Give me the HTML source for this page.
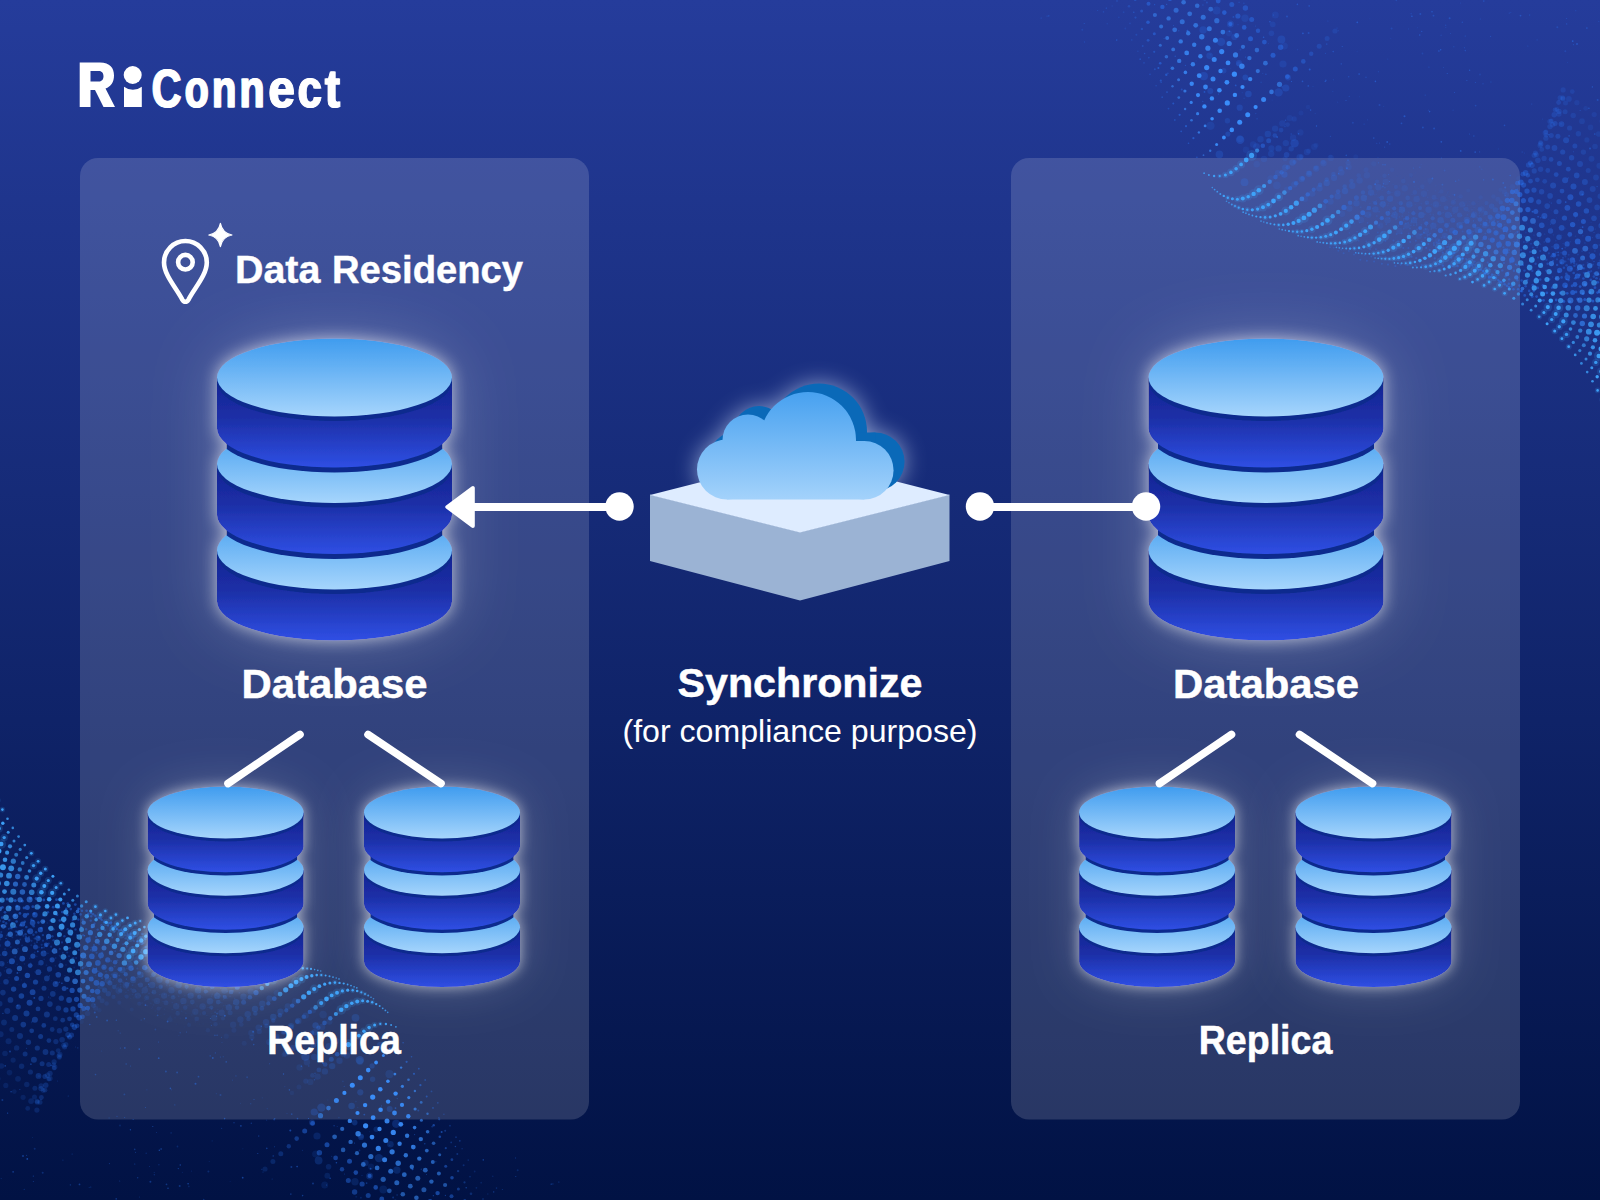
<!DOCTYPE html>
<html><head><meta charset="utf-8"><title>RiConnect - Data Residency</title>
<style>
html,body{margin:0;padding:0;background:#0a174f;}
body{width:1600px;height:1200px;overflow:hidden;font-family:"Liberation Sans",sans-serif;}
svg{display:block}
text{font-family:"Liberation Sans",sans-serif;fill:#fff}
</style></head><body>
<svg width="1600" height="1200" viewBox="0 0 1600 1200">
<defs>
<linearGradient id="gBg" x1="0" y1="0" x2="0" y2="1">
<stop offset="0" stop-color="#253c9b"/><stop offset="0.6" stop-color="#0f2368"/><stop offset="1" stop-color="#011244"/>
</linearGradient>
<linearGradient id="gTop" x1="0" y1="0" x2="0" y2="1">
<stop offset="0" stop-color="#3f9cef"/><stop offset="1" stop-color="#a6d5fc"/>
</linearGradient>
<linearGradient id="gSide" x1="0" y1="0" x2="0" y2="1">
<stop offset="0" stop-color="#142392"/><stop offset="0.45" stop-color="#1c2fa7"/><stop offset="1" stop-color="#2f4fe4"/>
</linearGradient>
<clipPath id="connClip"><rect x="-108" y="-100" width="216" height="500"/></clipPath>
<linearGradient id="gCloud" gradientUnits="userSpaceOnUse" x1="0" y1="392" x2="0" y2="499">
<stop offset="0" stop-color="#47a1f0"/><stop offset="1" stop-color="#a3d2fb"/>
</linearGradient>
<filter id="glow" x="-60%" y="-40%" width="220%" height="180%">
<feGaussianBlur in="SourceAlpha" stdDeviation="8" result="b1"/>
<feGaussianBlur in="SourceAlpha" stdDeviation="32" result="b2"/>
<feFlood flood-color="#ffffff" flood-opacity="0.62" result="f1"/>
<feComposite in="f1" in2="b1" operator="in" result="g1"/>
<feFlood flood-color="#ffffff" flood-opacity="0.22" result="f2"/>
<feComposite in="f2" in2="b2" operator="in" result="g2"/>
<feMerge><feMergeNode in="g2"/><feMergeNode in="g1"/><feMergeNode in="SourceGraphic"/></feMerge>
</filter>
<filter id="glowS" x="-60%" y="-40%" width="220%" height="180%">
<feGaussianBlur in="SourceAlpha" stdDeviation="6.5" result="b1"/>
<feGaussianBlur in="SourceAlpha" stdDeviation="24" result="b2"/>
<feFlood flood-color="#ffffff" flood-opacity="0.6" result="f1"/>
<feComposite in="f1" in2="b1" operator="in" result="g1"/>
<feFlood flood-color="#ffffff" flood-opacity="0.2" result="f2"/>
<feComposite in="f2" in2="b2" operator="in" result="g2"/>
<feMerge><feMergeNode in="g2"/><feMergeNode in="g1"/><feMergeNode in="SourceGraphic"/></feMerge>
</filter>
<filter id="blurC" x="-40%" y="-40%" width="180%" height="180%"><feGaussianBlur stdDeviation="11"/></filter>
<g id="db">
<path d="M-117.5 173.0V224.0A117.5 39.0 0 0 0 117.5 224.0V173.0Z" fill="url(#gSide)"/>
<ellipse cy="177.5" rx="117.5" ry="39.0" fill="#0b2c8e"/>
<ellipse cy="173.0" rx="117.5" ry="39.0" fill="url(#gTop)"/>
<ellipse cy="142.5" rx="117.5" ry="39.0" fill="#0b2c8e" clip-path="url(#connClip)"/>
<path d="M-117.5 86.5V137.5A117.5 39.0 0 0 0 117.5 137.5V86.5Z" fill="url(#gSide)"/>
<ellipse cy="91.0" rx="117.5" ry="39.0" fill="#0b2c8e"/>
<ellipse cy="86.5" rx="117.5" ry="39.0" fill="url(#gTop)"/>
<ellipse cy="56.0" rx="117.5" ry="39.0" fill="#0b2c8e" clip-path="url(#connClip)"/>
<path d="M-117.5 0.0V51.0A117.5 39.0 0 0 0 117.5 51.0V0.0Z" fill="url(#gSide)"/>
<ellipse cy="4.5" rx="117.5" ry="39.0" fill="#0b2c8e"/>
<ellipse cy="0.0" rx="117.5" ry="39.0" fill="url(#gTop)"/>
</g>
<g id="cloudShape">
<circle cx="727" cy="469.5" r="30"/>
<circle cx="748" cy="440" r="25.5"/>
<circle cx="808" cy="440" r="48"/>
<circle cx="864.3" cy="470.25" r="29.25"/>
<rect x="727" y="441" width="137.3" height="58.5"/>
</g>
<clipPath id="cloudClip"><rect x="600" y="300" width="400" height="199.5"/></clipPath>
<g id="dots">
<g fill="#2d7dff"><circle cx="1105.7" cy="-5.2" r="0.9" opacity="0.14"/><circle cx="1112.2" cy="6.0" r="0.8" opacity="0.15"/><circle cx="1117.0" cy="0.9" r="1.0" opacity="0.18"/><circle cx="1122.5" cy="-4.9" r="1.3" opacity="0.23"/><circle cx="1118.8" cy="17.3" r="0.9" opacity="0.16"/><circle cx="1123.6" cy="12.2" r="0.9" opacity="0.18"/><circle cx="1129.0" cy="6.3" r="1.3" opacity="0.24"/><circle cx="1135.2" cy="-0.3" r="1.4" opacity="0.34"/><circle cx="1125.3" cy="28.5" r="0.9" opacity="0.17"/><circle cx="1130.0" cy="23.4" r="0.9" opacity="0.20"/><circle cx="1135.5" cy="17.6" r="1.1" opacity="0.28"/><circle cx="1141.6" cy="11.0" r="1.5" opacity="0.35"/><circle cx="1148.5" cy="3.7" r="2.0" opacity="0.40"/><circle cx="1156.0" cy="-4.4" r="2.5" opacity="0.43"/><circle cx="1131.7" cy="39.9" r="0.9" opacity="0.19"/><circle cx="1136.4" cy="34.7" r="1.0" opacity="0.23"/><circle cx="1141.9" cy="28.9" r="1.2" opacity="0.31"/><circle cx="1148.0" cy="22.3" r="1.8" opacity="0.44"/><circle cx="1162.4" cy="6.9" r="2.2" opacity="0.47"/><circle cx="1169.9" cy="-1.1" r="2.2" opacity="0.47"/><circle cx="1137.9" cy="51.3" r="0.8" opacity="0.22"/><circle cx="1142.7" cy="46.1" r="1.0" opacity="0.28"/><circle cx="1148.1" cy="40.3" r="1.4" opacity="0.37"/><circle cx="1154.3" cy="33.7" r="1.5" opacity="0.41"/><circle cx="1191.1" cy="-5.8" r="2.3" opacity="0.47"/><circle cx="1144.0" cy="62.8" r="0.9" opacity="0.25"/><circle cx="1148.8" cy="57.6" r="0.9" opacity="0.27"/><circle cx="1154.2" cy="51.8" r="1.1" opacity="0.36"/><circle cx="1150.0" cy="74.3" r="0.9" opacity="0.25"/><circle cx="1154.8" cy="69.2" r="1.0" opacity="0.31"/><circle cx="1160.2" cy="63.3" r="1.3" opacity="0.45"/><circle cx="1218.2" cy="1.1" r="2.4" opacity="0.47"/><circle cx="1156.1" cy="85.8" r="0.8" opacity="0.27"/><circle cx="1160.8" cy="80.7" r="1.1" opacity="0.38"/><circle cx="1166.3" cy="74.8" r="1.2" opacity="0.45"/><circle cx="1224.3" cy="12.6" r="2.3" opacity="0.49"/><circle cx="1231.8" cy="4.6" r="2.5" opacity="0.38"/><circle cx="1239.3" cy="-3.4" r="2.2" opacity="0.31"/><circle cx="1162.2" cy="97.2" r="0.9" opacity="0.31"/><circle cx="1167.0" cy="92.1" r="0.9" opacity="0.39"/><circle cx="1230.4" cy="24.1" r="2.1" opacity="0.49"/><circle cx="1237.9" cy="16.0" r="2.6" opacity="0.40"/><circle cx="1245.4" cy="8.0" r="2.7" opacity="0.37"/><circle cx="1168.5" cy="108.6" r="0.9" opacity="0.31"/><circle cx="1173.3" cy="103.5" r="1.0" opacity="0.42"/><circle cx="1244.2" cy="27.4" r="2.3" opacity="0.48"/><circle cx="1251.7" cy="19.4" r="2.5" opacity="0.40"/><circle cx="1174.8" cy="120.0" r="0.9" opacity="0.33"/><circle cx="1179.6" cy="114.8" r="1.1" opacity="0.48"/><circle cx="1250.5" cy="38.8" r="2.5" opacity="0.48"/><circle cx="1258.0" cy="30.7" r="2.2" opacity="0.40"/><circle cx="1181.2" cy="131.3" r="0.9" opacity="0.40"/><circle cx="1186.0" cy="126.2" r="1.1" opacity="0.47"/><circle cx="1264.4" cy="42.1" r="2.4" opacity="0.42"/><circle cx="1188.5" cy="143.3" r="0.8" opacity="0.40"/><circle cx="1193.4" cy="138.2" r="1.1" opacity="0.48"/><circle cx="1273.0" cy="55.3" r="2.5" opacity="0.47"/><circle cx="1280.6" cy="47.3" r="2.7" opacity="0.40"/><circle cx="1196.9" cy="157.3" r="0.8" opacity="0.41"/><circle cx="1287.4" cy="76.6" r="2.4" opacity="0.46"/><circle cx="1295.3" cy="69.0" r="2.5" opacity="0.42"/><circle cx="1303.3" cy="61.4" r="2.3" opacity="0.35"/><circle cx="1311.2" cy="53.8" r="2.2" opacity="0.28"/><circle cx="1319.2" cy="46.2" r="2.5" opacity="0.23"/><circle cx="1327.1" cy="38.6" r="2.5" opacity="0.19"/><circle cx="1335.0" cy="31.0" r="2.6" opacity="0.15"/><circle cx="1262.8" cy="145.7" r="2.3" opacity="0.41"/><circle cx="1268.7" cy="140.7" r="2.5" opacity="0.31"/><circle cx="1274.8" cy="135.5" r="2.3" opacity="0.25"/><circle cx="1281.1" cy="130.1" r="2.4" opacity="0.20"/><circle cx="1287.6" cy="124.6" r="2.3" opacity="0.15"/><circle cx="1294.2" cy="118.9" r="2.6" opacity="0.13"/><circle cx="1301.0" cy="113.0" r="2.5" opacity="0.09"/><circle cx="1308.0" cy="107.0" r="2.3" opacity="0.08"/><circle cx="1275.5" cy="177.1" r="2.3" opacity="0.39"/><circle cx="1281.6" cy="172.3" r="2.2" opacity="0.30"/><circle cx="1287.9" cy="167.3" r="2.3" opacity="0.23"/><circle cx="1294.6" cy="162.1" r="2.1" opacity="0.17"/><circle cx="1301.4" cy="156.7" r="2.4" opacity="0.15"/><circle cx="1308.6" cy="151.1" r="2.5" opacity="0.12"/><circle cx="1316.0" cy="145.3" r="2.5" opacity="0.09"/><circle cx="1290.2" cy="188.1" r="2.2" opacity="0.45"/><circle cx="1296.2" cy="183.3" r="2.3" opacity="0.31"/><circle cx="1302.6" cy="178.4" r="2.4" opacity="0.24"/><circle cx="1309.2" cy="173.2" r="2.4" opacity="0.17"/><circle cx="1316.0" cy="167.8" r="2.1" opacity="0.16"/><circle cx="1323.2" cy="162.3" r="2.4" opacity="0.12"/><circle cx="1330.6" cy="156.5" r="2.1" opacity="0.09"/><circle cx="1307.7" cy="194.4" r="2.2" opacity="0.44"/><circle cx="1313.7" cy="189.6" r="2.1" opacity="0.31"/><circle cx="1320.1" cy="184.7" r="2.2" opacity="0.23"/><circle cx="1326.7" cy="179.5" r="2.2" opacity="0.18"/><circle cx="1333.5" cy="174.1" r="2.3" opacity="0.16"/><circle cx="1340.7" cy="168.6" r="2.6" opacity="0.12"/><circle cx="1348.1" cy="162.8" r="2.6" opacity="0.10"/><circle cx="1355.8" cy="156.8" r="2.5" opacity="0.08"/><circle cx="1325.7" cy="201.3" r="2.4" opacity="0.40"/><circle cx="1331.7" cy="196.6" r="2.1" opacity="0.31"/><circle cx="1338.1" cy="191.6" r="2.3" opacity="0.22"/><circle cx="1344.7" cy="186.5" r="2.3" opacity="0.18"/><circle cx="1351.5" cy="181.1" r="2.3" opacity="0.15"/><circle cx="1358.7" cy="175.5" r="2.3" opacity="0.11"/><circle cx="1366.1" cy="169.8" r="2.5" opacity="0.09"/><circle cx="1373.8" cy="163.8" r="2.6" opacity="0.07"/><circle cx="1344.0" cy="207.4" r="2.6" opacity="0.44"/><circle cx="1350.1" cy="202.7" r="2.3" opacity="0.31"/><circle cx="1356.4" cy="197.7" r="2.5" opacity="0.25"/><circle cx="1363.0" cy="192.5" r="2.2" opacity="0.19"/><circle cx="1369.9" cy="187.2" r="2.5" opacity="0.14"/><circle cx="1377.1" cy="181.6" r="2.1" opacity="0.11"/><circle cx="1384.5" cy="175.8" r="2.3" opacity="0.10"/><circle cx="1392.1" cy="169.8" r="2.2" opacity="0.08"/><circle cx="1362.8" cy="212.7" r="2.5" opacity="0.44"/><circle cx="1368.9" cy="208.0" r="2.3" opacity="0.29"/><circle cx="1375.2" cy="203.0" r="2.1" opacity="0.25"/><circle cx="1381.8" cy="197.9" r="2.4" opacity="0.18"/><circle cx="1388.7" cy="192.5" r="2.1" opacity="0.16"/><circle cx="1395.9" cy="186.9" r="2.1" opacity="0.12"/><circle cx="1403.3" cy="181.1" r="2.4" opacity="0.10"/><circle cx="1410.9" cy="175.1" r="2.1" opacity="0.07"/><circle cx="1381.8" cy="218.2" r="2.1" opacity="0.41"/><circle cx="1387.9" cy="213.5" r="2.4" opacity="0.30"/><circle cx="1394.2" cy="208.5" r="2.1" opacity="0.25"/><circle cx="1400.8" cy="203.3" r="2.2" opacity="0.18"/><circle cx="1407.7" cy="198.0" r="2.4" opacity="0.14"/><circle cx="1414.8" cy="192.4" r="2.3" opacity="0.12"/><circle cx="1422.3" cy="186.6" r="2.3" opacity="0.10"/><circle cx="1429.9" cy="180.6" r="2.5" opacity="0.07"/><circle cx="1401.0" cy="223.0" r="2.2" opacity="0.45"/><circle cx="1407.0" cy="218.2" r="2.3" opacity="0.33"/><circle cx="1413.4" cy="213.3" r="2.1" opacity="0.26"/><circle cx="1420.0" cy="208.1" r="2.1" opacity="0.20"/><circle cx="1426.9" cy="202.8" r="2.3" opacity="0.15"/><circle cx="1434.0" cy="197.2" r="2.5" opacity="0.11"/><circle cx="1441.4" cy="191.4" r="2.2" opacity="0.09"/><circle cx="1420.2" cy="228.0" r="2.1" opacity="0.40"/><circle cx="1426.3" cy="223.3" r="2.1" opacity="0.30"/><circle cx="1432.7" cy="218.3" r="2.1" opacity="0.24"/><circle cx="1439.3" cy="213.2" r="2.3" opacity="0.20"/><circle cx="1446.1" cy="207.8" r="2.4" opacity="0.15"/><circle cx="1453.3" cy="202.2" r="2.5" opacity="0.12"/><circle cx="1460.7" cy="196.4" r="2.2" opacity="0.09"/><circle cx="1468.3" cy="190.4" r="2.0" opacity="0.07"/><circle cx="1440.4" cy="230.5" r="2.6" opacity="0.42"/><circle cx="1446.5" cy="225.5" r="2.4" opacity="0.31"/><circle cx="1452.8" cy="220.3" r="2.5" opacity="0.21"/><circle cx="1459.4" cy="214.9" r="2.5" opacity="0.17"/><circle cx="1466.2" cy="209.2" r="2.4" opacity="0.13"/><circle cx="1473.3" cy="203.4" r="2.1" opacity="0.12"/><circle cx="1480.7" cy="197.3" r="2.1" opacity="0.09"/><circle cx="1455.3" cy="232.4" r="2.6" opacity="0.43"/><circle cx="1461.0" cy="227.0" r="2.1" opacity="0.31"/><circle cx="1467.0" cy="221.4" r="2.6" opacity="0.25"/><circle cx="1473.2" cy="215.5" r="2.4" opacity="0.19"/><circle cx="1479.7" cy="209.4" r="2.2" opacity="0.15"/><circle cx="1486.5" cy="203.1" r="2.1" opacity="0.12"/><circle cx="1493.4" cy="196.5" r="2.3" opacity="0.09"/><circle cx="1500.7" cy="189.7" r="2.3" opacity="0.07"/><circle cx="1469.0" cy="231.8" r="2.7" opacity="0.44"/><circle cx="1474.3" cy="225.8" r="2.2" opacity="0.35"/><circle cx="1479.9" cy="219.5" r="2.3" opacity="0.26"/><circle cx="1485.7" cy="213.0" r="2.2" opacity="0.19"/><circle cx="1491.7" cy="206.2" r="2.7" opacity="0.16"/><circle cx="1497.9" cy="199.2" r="2.5" opacity="0.11"/><circle cx="1504.4" cy="191.9" r="2.6" opacity="0.09"/><circle cx="1480.2" cy="230.7" r="2.3" opacity="0.45"/><circle cx="1485.1" cy="224.0" r="2.3" opacity="0.36"/><circle cx="1490.1" cy="217.1" r="2.5" opacity="0.25"/><circle cx="1495.4" cy="209.9" r="2.7" opacity="0.19"/><circle cx="1500.8" cy="202.4" r="2.2" opacity="0.16"/><circle cx="1506.5" cy="194.7" r="2.6" opacity="0.12"/><circle cx="1512.4" cy="186.6" r="2.7" opacity="0.09"/><circle cx="1518.4" cy="178.3" r="2.3" opacity="0.07"/><circle cx="1484.9" cy="237.8" r="2.3" opacity="0.41"/><circle cx="1489.0" cy="230.9" r="2.5" opacity="0.36"/><circle cx="1493.3" cy="223.7" r="2.5" opacity="0.40"/><circle cx="1497.8" cy="216.2" r="2.7" opacity="0.41"/><circle cx="1502.5" cy="208.4" r="2.8" opacity="0.43"/><circle cx="1507.3" cy="200.3" r="2.6" opacity="0.47"/><circle cx="1512.3" cy="191.9" r="2.4" opacity="0.46"/><circle cx="1517.5" cy="183.2" r="2.4" opacity="0.37"/><circle cx="1522.9" cy="174.2" r="2.4" opacity="0.30"/><circle cx="1528.5" cy="164.9" r="2.6" opacity="0.26"/><circle cx="1534.2" cy="155.3" r="2.6" opacity="0.19"/><circle cx="1540.1" cy="145.5" r="2.7" opacity="0.16"/><circle cx="1546.2" cy="135.3" r="2.4" opacity="0.15"/><circle cx="1552.5" cy="124.8" r="2.7" opacity="0.15"/><circle cx="1558.9" cy="114.0" r="2.7" opacity="0.17"/><circle cx="1565.5" cy="103.0" r="2.5" opacity="0.16"/><circle cx="1572.3" cy="91.6" r="2.4" opacity="0.16"/><circle cx="1492.3" cy="240.1" r="2.6" opacity="0.42"/><circle cx="1496.0" cy="232.8" r="2.6" opacity="0.40"/><circle cx="1499.7" cy="225.2" r="2.5" opacity="0.46"/><circle cx="1503.6" cy="217.2" r="2.9" opacity="0.45"/><circle cx="1507.7" cy="209.0" r="2.3" opacity="0.50"/><circle cx="1511.9" cy="200.5" r="2.7" opacity="0.48"/><circle cx="1516.3" cy="191.6" r="2.5" opacity="0.42"/><circle cx="1520.9" cy="182.4" r="2.8" opacity="0.40"/><circle cx="1525.6" cy="172.9" r="2.8" opacity="0.32"/><circle cx="1530.4" cy="163.1" r="2.5" opacity="0.25"/><circle cx="1535.4" cy="153.0" r="2.5" opacity="0.21"/><circle cx="1540.6" cy="142.6" r="2.4" opacity="0.18"/><circle cx="1545.9" cy="131.9" r="2.4" opacity="0.16"/><circle cx="1551.3" cy="120.9" r="2.4" opacity="0.17"/><circle cx="1556.9" cy="109.5" r="2.4" opacity="0.17"/><circle cx="1562.7" cy="97.8" r="2.5" opacity="0.17"/><circle cx="1499.0" cy="244.7" r="2.9" opacity="0.43"/><circle cx="1502.1" cy="237.1" r="2.8" opacity="0.44"/><circle cx="1505.4" cy="229.2" r="2.9" opacity="0.49"/><circle cx="1508.8" cy="221.1" r="2.5" opacity="0.47"/><circle cx="1519.8" cy="194.6" r="2.6" opacity="0.49"/><circle cx="1523.7" cy="185.1" r="2.6" opacity="0.36"/><circle cx="1527.8" cy="175.3" r="2.3" opacity="0.30"/><circle cx="1532.0" cy="165.2" r="2.7" opacity="0.23"/><circle cx="1536.4" cy="154.8" r="2.5" opacity="0.18"/><circle cx="1540.8" cy="144.0" r="2.7" opacity="0.18"/><circle cx="1545.4" cy="132.9" r="2.8" opacity="0.17"/><circle cx="1550.2" cy="121.5" r="2.8" opacity="0.18"/><circle cx="1555.0" cy="109.8" r="2.4" opacity="0.20"/><circle cx="1560.0" cy="97.8" r="2.5" opacity="0.18"/><circle cx="1505.4" cy="251.4" r="2.9" opacity="0.50"/><circle cx="1508.2" cy="243.7" r="2.8" opacity="0.47"/><circle cx="1523.5" cy="200.7" r="2.6" opacity="0.45"/><circle cx="1527.0" cy="191.1" r="2.7" opacity="0.39"/><circle cx="1530.5" cy="181.2" r="2.4" opacity="0.30"/><circle cx="1534.2" cy="170.9" r="2.6" opacity="0.24"/><circle cx="1537.9" cy="160.3" r="2.8" opacity="0.20"/><circle cx="1541.8" cy="149.4" r="2.4" opacity="0.19"/><circle cx="1545.9" cy="138.2" r="2.6" opacity="0.19"/><circle cx="1550.0" cy="126.6" r="2.7" opacity="0.20"/><circle cx="1554.2" cy="114.7" r="2.7" opacity="0.22"/><circle cx="1558.6" cy="102.5" r="2.4" opacity="0.21"/><circle cx="1563.1" cy="89.9" r="2.6" opacity="0.17"/><circle cx="1511.9" cy="260.0" r="2.8" opacity="0.50"/><circle cx="1527.9" cy="209.6" r="2.6" opacity="0.49"/><circle cx="1530.9" cy="200.0" r="2.9" opacity="0.39"/><circle cx="1534.0" cy="190.1" r="2.6" opacity="0.34"/><circle cx="1537.3" cy="179.8" r="2.4" opacity="0.27"/><circle cx="1540.6" cy="169.3" r="2.7" opacity="0.21"/><circle cx="1544.1" cy="158.4" r="2.6" opacity="0.21"/><circle cx="1547.7" cy="147.1" r="2.5" opacity="0.24"/><circle cx="1551.3" cy="135.6" r="2.5" opacity="0.22"/><circle cx="1555.1" cy="123.6" r="2.5" opacity="0.24"/><circle cx="1559.0" cy="111.4" r="2.7" opacity="0.20"/><circle cx="1563.0" cy="98.8" r="2.5" opacity="0.19"/><circle cx="1535.8" cy="211.5" r="2.5" opacity="0.42"/><circle cx="1538.7" cy="201.8" r="2.6" opacity="0.32"/><circle cx="1541.6" cy="191.7" r="2.7" opacity="0.26"/><circle cx="1544.7" cy="181.3" r="2.4" opacity="0.23"/><circle cx="1547.8" cy="170.5" r="2.4" opacity="0.23"/><circle cx="1551.1" cy="159.4" r="2.4" opacity="0.27"/><circle cx="1554.5" cy="148.0" r="2.9" opacity="0.26"/><circle cx="1557.9" cy="136.2" r="2.5" opacity="0.26"/><circle cx="1561.5" cy="124.1" r="2.9" opacity="0.25"/><circle cx="1565.1" cy="111.7" r="2.5" opacity="0.19"/><circle cx="1568.9" cy="98.9" r="2.9" opacity="0.16"/><circle cx="1541.7" cy="225.3" r="2.8" opacity="0.40"/><circle cx="1544.4" cy="215.9" r="3.0" opacity="0.37"/><circle cx="1547.2" cy="206.1" r="2.8" opacity="0.27"/><circle cx="1550.1" cy="195.9" r="2.8" opacity="0.27"/><circle cx="1553.1" cy="185.4" r="3.0" opacity="0.28"/><circle cx="1556.2" cy="174.6" r="2.4" opacity="0.32"/><circle cx="1559.4" cy="163.5" r="2.5" opacity="0.31"/><circle cx="1562.7" cy="152.0" r="2.6" opacity="0.27"/><circle cx="1566.1" cy="140.2" r="3.0" opacity="0.27"/><circle cx="1569.6" cy="128.0" r="2.6" opacity="0.20"/><circle cx="1573.2" cy="115.5" r="2.7" opacity="0.16"/><circle cx="1576.9" cy="102.7" r="2.6" opacity="0.13"/><circle cx="1547.9" cy="240.2" r="2.6" opacity="0.42"/><circle cx="1550.5" cy="231.0" r="2.7" opacity="0.33"/><circle cx="1553.2" cy="221.6" r="2.8" opacity="0.30"/><circle cx="1556.0" cy="211.8" r="2.5" opacity="0.30"/><circle cx="1559.0" cy="201.6" r="2.6" opacity="0.32"/><circle cx="1562.0" cy="191.1" r="2.4" opacity="0.33"/><circle cx="1565.1" cy="180.3" r="3.0" opacity="0.32"/><circle cx="1568.3" cy="169.2" r="2.4" opacity="0.32"/><circle cx="1571.6" cy="157.7" r="2.7" opacity="0.27"/><circle cx="1574.9" cy="145.9" r="2.5" opacity="0.25"/><circle cx="1578.4" cy="133.7" r="2.7" opacity="0.19"/><circle cx="1582.0" cy="121.2" r="2.9" opacity="0.14"/><circle cx="1585.7" cy="108.4" r="2.4" opacity="0.11"/><circle cx="1553.8" cy="255.2" r="2.4" opacity="0.46"/><circle cx="1556.4" cy="246.4" r="3.0" opacity="0.36"/><circle cx="1559.0" cy="237.2" r="2.7" opacity="0.32"/><circle cx="1561.7" cy="227.8" r="2.9" opacity="0.37"/><circle cx="1564.5" cy="218.0" r="2.6" opacity="0.39"/><circle cx="1567.4" cy="207.8" r="2.9" opacity="0.41"/><circle cx="1570.4" cy="197.3" r="3.0" opacity="0.41"/><circle cx="1573.5" cy="186.5" r="3.0" opacity="0.34"/><circle cx="1576.7" cy="175.4" r="2.8" opacity="0.31"/><circle cx="1580.0" cy="163.9" r="3.0" opacity="0.24"/><circle cx="1583.4" cy="152.1" r="2.7" opacity="0.18"/><circle cx="1586.9" cy="139.9" r="2.6" opacity="0.14"/><circle cx="1590.5" cy="127.4" r="2.8" opacity="0.12"/><circle cx="1594.2" cy="114.6" r="2.6" opacity="0.13"/><circle cx="1559.6" cy="270.3" r="2.6" opacity="0.47"/><circle cx="1562.0" cy="261.8" r="2.7" opacity="0.39"/><circle cx="1564.5" cy="253.0" r="2.5" opacity="0.42"/><circle cx="1567.1" cy="243.9" r="2.6" opacity="0.43"/><circle cx="1569.8" cy="234.4" r="2.4" opacity="0.45"/><circle cx="1572.6" cy="224.6" r="2.7" opacity="0.48"/><circle cx="1575.6" cy="214.5" r="2.5" opacity="0.47"/><circle cx="1578.6" cy="204.0" r="2.8" opacity="0.39"/><circle cx="1581.7" cy="193.2" r="2.6" opacity="0.32"/><circle cx="1584.9" cy="182.0" r="3.0" opacity="0.27"/><circle cx="1588.2" cy="170.5" r="2.5" opacity="0.20"/><circle cx="1591.5" cy="158.7" r="3.0" opacity="0.16"/><circle cx="1595.0" cy="146.5" r="2.8" opacity="0.14"/><circle cx="1598.6" cy="134.0" r="2.8" opacity="0.14"/><circle cx="1602.3" cy="121.2" r="2.8" opacity="0.14"/><circle cx="1565.1" cy="285.3" r="2.8" opacity="0.45"/><circle cx="1567.4" cy="277.2" r="2.8" opacity="0.43"/><circle cx="1569.8" cy="268.8" r="3.0" opacity="0.44"/><circle cx="1572.4" cy="260.0" r="2.7" opacity="0.44"/><circle cx="1577.7" cy="241.4" r="2.9" opacity="0.49"/><circle cx="1583.4" cy="221.4" r="2.5" opacity="0.45"/><circle cx="1586.4" cy="210.9" r="2.7" opacity="0.38"/><circle cx="1589.5" cy="200.1" r="2.9" opacity="0.27"/><circle cx="1592.7" cy="189.0" r="3.0" opacity="0.22"/><circle cx="1596.0" cy="177.5" r="2.9" opacity="0.19"/><circle cx="1599.4" cy="165.7" r="3.0" opacity="0.16"/><circle cx="1602.9" cy="153.5" r="2.9" opacity="0.15"/><circle cx="1572.7" cy="292.6" r="2.5" opacity="0.50"/><circle cx="1575.0" cy="284.5" r="2.4" opacity="0.48"/><circle cx="1577.4" cy="276.0" r="2.6" opacity="0.49"/><circle cx="1588.1" cy="238.8" r="3.0" opacity="0.47"/><circle cx="1591.0" cy="228.7" r="3.0" opacity="0.35"/><circle cx="1594.0" cy="218.2" r="2.8" opacity="0.28"/><circle cx="1597.1" cy="207.4" r="2.8" opacity="0.24"/><circle cx="1600.3" cy="196.2" r="2.8" opacity="0.19"/><circle cx="1603.6" cy="184.8" r="2.4" opacity="0.18"/><circle cx="1592.5" cy="256.3" r="3.0" opacity="0.48"/><circle cx="1595.3" cy="246.5" r="2.8" opacity="0.38"/><circle cx="1598.2" cy="236.3" r="2.8" opacity="0.29"/><circle cx="1601.2" cy="225.8" r="2.9" opacity="0.24"/><circle cx="1604.3" cy="215.0" r="2.9" opacity="0.21"/><circle cx="1599.3" cy="264.2" r="2.4" opacity="0.43"/><circle cx="1602.1" cy="254.4" r="2.6" opacity="0.31"/><circle cx="1605.0" cy="244.3" r="2.8" opacity="0.28"/><circle cx="1603.1" cy="282.0" r="2.5" opacity="0.45"/><circle cx="1605.8" cy="272.5" r="2.5" opacity="0.33"/><circle cx="1246.0" cy="149.8" r="3.2" opacity="0.10"/><circle cx="1253.2" cy="144.5" r="3.2" opacity="0.13"/><circle cx="1260.5" cy="139.2" r="3.2" opacity="0.16"/><circle cx="1267.8" cy="133.9" r="3.2" opacity="0.19"/><circle cx="1275.1" cy="128.6" r="3.2" opacity="0.16"/><circle cx="1282.4" cy="123.4" r="3.2" opacity="0.13"/><circle cx="1289.7" cy="118.1" r="3.2" opacity="0.10"/><circle cx="1256.7" cy="164.3" r="3.2" opacity="0.10"/><circle cx="1264.0" cy="159.0" r="3.2" opacity="0.13"/><circle cx="1271.2" cy="153.7" r="3.2" opacity="0.16"/><circle cx="1278.5" cy="148.4" r="3.2" opacity="0.19"/><circle cx="1285.8" cy="143.1" r="3.2" opacity="0.16"/><circle cx="1293.1" cy="137.8" r="3.2" opacity="0.13"/><circle cx="1300.4" cy="132.5" r="3.2" opacity="0.10"/><circle cx="1270.6" cy="178.4" r="3.2" opacity="0.10"/><circle cx="1277.9" cy="173.1" r="3.2" opacity="0.13"/><circle cx="1285.2" cy="167.8" r="3.2" opacity="0.16"/><circle cx="1292.5" cy="162.5" r="3.2" opacity="0.19"/><circle cx="1299.7" cy="157.3" r="3.2" opacity="0.16"/><circle cx="1307.0" cy="152.0" r="3.2" opacity="0.13"/><circle cx="1314.3" cy="146.7" r="3.2" opacity="0.10"/><circle cx="1287.1" cy="189.7" r="3.2" opacity="0.10"/><circle cx="1294.4" cy="184.4" r="3.2" opacity="0.13"/><circle cx="1301.7" cy="179.1" r="3.2" opacity="0.16"/><circle cx="1309.0" cy="173.8" r="3.2" opacity="0.19"/><circle cx="1316.2" cy="168.5" r="3.2" opacity="0.16"/><circle cx="1323.5" cy="163.2" r="3.2" opacity="0.13"/><circle cx="1330.8" cy="157.9" r="3.2" opacity="0.10"/><circle cx="1304.9" cy="198.8" r="3.2" opacity="0.10"/><circle cx="1312.2" cy="193.5" r="3.2" opacity="0.13"/><circle cx="1319.5" cy="188.2" r="3.2" opacity="0.16"/><circle cx="1326.7" cy="183.0" r="3.2" opacity="0.19"/><circle cx="1334.0" cy="177.7" r="3.2" opacity="0.16"/><circle cx="1341.3" cy="172.4" r="3.2" opacity="0.13"/><circle cx="1348.6" cy="167.1" r="3.2" opacity="0.10"/><circle cx="1323.2" cy="206.9" r="3.2" opacity="0.10"/><circle cx="1330.5" cy="201.6" r="3.2" opacity="0.13"/><circle cx="1337.7" cy="196.3" r="3.2" opacity="0.16"/><circle cx="1345.0" cy="191.0" r="3.2" opacity="0.19"/><circle cx="1352.3" cy="185.8" r="3.2" opacity="0.16"/><circle cx="1359.6" cy="180.5" r="3.2" opacity="0.13"/><circle cx="1366.9" cy="175.2" r="3.2" opacity="0.10"/><circle cx="1342.0" cy="213.7" r="3.2" opacity="0.10"/><circle cx="1349.3" cy="208.5" r="3.2" opacity="0.13"/><circle cx="1356.5" cy="203.2" r="3.2" opacity="0.16"/><circle cx="1363.8" cy="197.9" r="3.2" opacity="0.19"/><circle cx="1371.1" cy="192.6" r="3.2" opacity="0.16"/><circle cx="1378.4" cy="187.3" r="3.2" opacity="0.13"/><circle cx="1385.7" cy="182.0" r="3.2" opacity="0.10"/><circle cx="1361.0" cy="220.0" r="3.2" opacity="0.10"/><circle cx="1368.3" cy="214.7" r="3.2" opacity="0.13"/><circle cx="1375.5" cy="209.4" r="3.2" opacity="0.16"/><circle cx="1382.8" cy="204.1" r="3.2" opacity="0.19"/><circle cx="1390.1" cy="198.8" r="3.2" opacity="0.16"/><circle cx="1397.4" cy="193.5" r="3.2" opacity="0.13"/><circle cx="1404.7" cy="188.2" r="3.2" opacity="0.10"/><circle cx="1380.2" cy="225.6" r="3.2" opacity="0.10"/><circle cx="1387.5" cy="220.3" r="3.2" opacity="0.13"/><circle cx="1394.7" cy="215.0" r="3.2" opacity="0.16"/><circle cx="1402.0" cy="209.7" r="3.2" opacity="0.19"/><circle cx="1409.3" cy="204.4" r="3.2" opacity="0.16"/><circle cx="1416.6" cy="199.1" r="3.2" opacity="0.13"/><circle cx="1423.9" cy="193.8" r="3.2" opacity="0.10"/><circle cx="1399.5" cy="230.9" r="3.2" opacity="0.10"/><circle cx="1406.7" cy="225.6" r="3.2" opacity="0.13"/><circle cx="1414.0" cy="220.3" r="3.2" opacity="0.16"/><circle cx="1421.3" cy="215.0" r="3.2" opacity="0.19"/><circle cx="1428.6" cy="209.7" r="3.2" opacity="0.16"/><circle cx="1435.9" cy="204.4" r="3.2" opacity="0.13"/><circle cx="1443.1" cy="199.1" r="3.2" opacity="0.10"/><circle cx="1418.8" cy="236.1" r="3.2" opacity="0.10"/><circle cx="1426.0" cy="230.9" r="3.2" opacity="0.13"/><circle cx="1433.3" cy="225.6" r="3.2" opacity="0.16"/><circle cx="1440.6" cy="220.3" r="3.2" opacity="0.19"/><circle cx="1447.9" cy="215.0" r="3.2" opacity="0.16"/><circle cx="1455.2" cy="209.7" r="3.2" opacity="0.13"/><circle cx="1462.4" cy="204.4" r="3.2" opacity="0.10"/><circle cx="1437.7" cy="241.2" r="3.2" opacity="0.10"/><circle cx="1445.0" cy="235.9" r="3.2" opacity="0.13"/><circle cx="1452.3" cy="230.6" r="3.2" opacity="0.16"/><circle cx="1459.6" cy="225.3" r="3.2" opacity="0.19"/><circle cx="1466.8" cy="220.0" r="3.2" opacity="0.16"/><circle cx="1474.1" cy="214.7" r="3.2" opacity="0.13"/><circle cx="1481.4" cy="209.4" r="3.2" opacity="0.10"/><circle cx="1455.7" cy="245.9" r="3.2" opacity="0.10"/><circle cx="1463.0" cy="240.6" r="3.2" opacity="0.13"/><circle cx="1470.3" cy="235.3" r="3.2" opacity="0.16"/><circle cx="1477.6" cy="230.0" r="3.2" opacity="0.19"/><circle cx="1484.9" cy="224.7" r="3.2" opacity="0.16"/><circle cx="1492.1" cy="219.4" r="3.2" opacity="0.13"/><circle cx="1499.4" cy="214.1" r="3.2" opacity="0.10"/><circle cx="1330.0" cy="247.2" r="1.0" opacity="0.23"/><circle cx="1338.3" cy="250.7" r="1.0" opacity="0.23"/><circle cx="1343.6" cy="253.2" r="1.0" opacity="0.24"/><circle cx="1354.0" cy="254.5" r="1.0" opacity="0.24"/><circle cx="1360.3" cy="259.7" r="1.0" opacity="0.25"/><circle cx="1366.9" cy="260.7" r="1.0" opacity="0.26"/><circle cx="1374.1" cy="261.5" r="1.0" opacity="0.26"/><circle cx="1381.9" cy="263.8" r="1.0" opacity="0.27"/><circle cx="1388.0" cy="264.6" r="1.1" opacity="0.27"/><circle cx="1395.4" cy="266.1" r="1.1" opacity="0.28"/><circle cx="1400.6" cy="264.6" r="1.1" opacity="0.29"/><circle cx="1407.6" cy="265.2" r="1.1" opacity="0.29"/><circle cx="1415.5" cy="265.6" r="1.1" opacity="0.30"/><circle cx="1421.8" cy="265.3" r="1.1" opacity="0.30"/><circle cx="1426.0" cy="265.9" r="1.1" opacity="0.31"/><circle cx="1431.2" cy="266.5" r="1.1" opacity="0.32"/><circle cx="1439.0" cy="264.2" r="1.2" opacity="0.32"/><circle cx="1442.9" cy="265.6" r="1.2" opacity="0.33"/><circle cx="1449.6" cy="265.1" r="1.2" opacity="0.34"/><circle cx="1452.6" cy="265.8" r="1.2" opacity="0.34"/><circle cx="1457.7" cy="266.1" r="1.2" opacity="0.35"/><circle cx="1464.2" cy="268.0" r="1.2" opacity="0.35"/><circle cx="1469.4" cy="266.6" r="1.2" opacity="0.36"/><circle cx="1475.2" cy="270.4" r="1.2" opacity="0.37"/><circle cx="1479.0" cy="270.2" r="1.2" opacity="0.37"/><circle cx="1484.4" cy="273.7" r="1.3" opacity="0.38"/><circle cx="1489.1" cy="277.8" r="1.3" opacity="0.38"/><circle cx="1494.8" cy="277.8" r="1.3" opacity="0.39"/><circle cx="1499.5" cy="281.6" r="1.3" opacity="0.40"/><circle cx="1504.6" cy="284.2" r="1.3" opacity="0.40"/><circle cx="1508.9" cy="287.1" r="1.3" opacity="0.41"/><circle cx="1513.4" cy="289.3" r="1.3" opacity="0.41"/><circle cx="1520.8" cy="291.0" r="1.3" opacity="0.42"/><circle cx="1524.7" cy="295.4" r="1.4" opacity="0.43"/><circle cx="1532.2" cy="296.4" r="1.4" opacity="0.43"/><circle cx="1536.6" cy="296.6" r="1.4" opacity="0.44"/><circle cx="1543.5" cy="300.3" r="1.4" opacity="0.45"/><circle cx="1550.6" cy="301.0" r="1.4" opacity="0.45"/><circle cx="1556.2" cy="300.0" r="1.4" opacity="0.46"/><circle cx="1563.9" cy="301.5" r="1.4" opacity="0.46"/><circle cx="1569.6" cy="301.6" r="1.4" opacity="0.47"/><circle cx="1577.7" cy="298.9" r="1.5" opacity="0.48"/><circle cx="1584.8" cy="299.6" r="1.5" opacity="0.48"/><circle cx="1592.9" cy="300.9" r="1.5" opacity="0.49"/><circle cx="1599.7" cy="299.9" r="1.5" opacity="0.49"/><circle cx="1333.6" cy="247.7" r="0.9" opacity="0.21"/><circle cx="1341.3" cy="249.6" r="1.0" opacity="0.22"/><circle cx="1348.9" cy="251.1" r="1.0" opacity="0.22"/><circle cx="1356.1" cy="253.0" r="1.0" opacity="0.23"/><circle cx="1364.7" cy="255.1" r="1.0" opacity="0.23"/><circle cx="1371.3" cy="256.5" r="1.0" opacity="0.24"/><circle cx="1379.7" cy="256.7" r="1.0" opacity="0.25"/><circle cx="1385.8" cy="257.6" r="1.0" opacity="0.25"/><circle cx="1393.7" cy="257.4" r="1.0" opacity="0.26"/><circle cx="1399.4" cy="257.2" r="1.0" opacity="0.26"/><circle cx="1404.5" cy="258.5" r="1.1" opacity="0.27"/><circle cx="1411.7" cy="256.8" r="1.1" opacity="0.27"/><circle cx="1416.2" cy="258.2" r="1.1" opacity="0.28"/><circle cx="1423.0" cy="257.7" r="1.1" opacity="0.29"/><circle cx="1428.9" cy="257.2" r="1.1" opacity="0.29"/><circle cx="1434.8" cy="258.4" r="1.1" opacity="0.30"/><circle cx="1441.2" cy="257.1" r="1.1" opacity="0.30"/><circle cx="1445.2" cy="257.0" r="1.1" opacity="0.31"/><circle cx="1451.2" cy="257.5" r="1.2" opacity="0.31"/><circle cx="1454.9" cy="261.0" r="1.2" opacity="0.32"/><circle cx="1459.1" cy="262.2" r="1.2" opacity="0.33"/><circle cx="1465.6" cy="263.7" r="1.2" opacity="0.33"/><circle cx="1469.8" cy="264.7" r="1.2" opacity="0.34"/><circle cx="1476.5" cy="269.0" r="1.2" opacity="0.34"/><circle cx="1481.0" cy="269.7" r="1.2" opacity="0.35"/><circle cx="1485.9" cy="272.8" r="1.2" opacity="0.35"/><circle cx="1489.1" cy="276.5" r="1.2" opacity="0.36"/><circle cx="1495.5" cy="278.1" r="1.3" opacity="0.37"/><circle cx="1501.1" cy="282.1" r="1.3" opacity="0.37"/><circle cx="1506.9" cy="285.7" r="1.3" opacity="0.38"/><circle cx="1511.7" cy="286.2" r="1.3" opacity="0.38"/><circle cx="1518.1" cy="289.3" r="1.3" opacity="0.39"/><circle cx="1521.9" cy="291.3" r="1.3" opacity="0.40"/><circle cx="1529.2" cy="290.9" r="1.3" opacity="0.40"/><circle cx="1533.8" cy="291.1" r="1.3" opacity="0.41"/><circle cx="1541.0" cy="292.5" r="1.3" opacity="0.41"/><circle cx="1546.8" cy="292.8" r="1.4" opacity="0.42"/><circle cx="1552.9" cy="293.6" r="1.4" opacity="0.42"/><circle cx="1560.2" cy="292.9" r="1.4" opacity="0.43"/><circle cx="1567.2" cy="293.3" r="1.4" opacity="0.44"/><circle cx="1576.0" cy="292.0" r="1.4" opacity="0.44"/><circle cx="1583.2" cy="293.8" r="1.4" opacity="0.45"/><circle cx="1589.8" cy="292.7" r="1.4" opacity="0.45"/><circle cx="1597.6" cy="292.6" r="1.4" opacity="0.46"/><circle cx="1604.9" cy="294.0" r="1.4" opacity="0.46"/><circle cx="1338.2" cy="245.8" r="0.9" opacity="0.20"/><circle cx="1346.5" cy="247.1" r="0.9" opacity="0.20"/><circle cx="1353.5" cy="247.4" r="1.0" opacity="0.21"/><circle cx="1361.2" cy="249.3" r="1.0" opacity="0.21"/><circle cx="1370.0" cy="249.3" r="1.0" opacity="0.22"/><circle cx="1375.9" cy="249.2" r="1.0" opacity="0.22"/><circle cx="1381.7" cy="251.1" r="1.0" opacity="0.23"/><circle cx="1388.1" cy="251.1" r="1.0" opacity="0.24"/><circle cx="1396.2" cy="248.3" r="1.0" opacity="0.24"/><circle cx="1403.3" cy="248.1" r="1.0" opacity="0.25"/><circle cx="1408.4" cy="247.9" r="1.0" opacity="0.25"/><circle cx="1415.7" cy="248.3" r="1.0" opacity="0.26"/><circle cx="1421.2" cy="247.6" r="1.1" opacity="0.26"/><circle cx="1426.2" cy="247.9" r="1.1" opacity="0.27"/><circle cx="1429.8" cy="250.0" r="1.1" opacity="0.27"/><circle cx="1438.0" cy="251.2" r="1.1" opacity="0.28"/><circle cx="1442.8" cy="252.7" r="1.1" opacity="0.28"/><circle cx="1447.0" cy="252.1" r="1.1" opacity="0.29"/><circle cx="1452.0" cy="254.3" r="1.1" opacity="0.29"/><circle cx="1457.0" cy="256.9" r="1.1" opacity="0.30"/><circle cx="1461.8" cy="258.9" r="1.1" opacity="0.31"/><circle cx="1467.3" cy="262.2" r="1.2" opacity="0.31"/><circle cx="1471.5" cy="264.0" r="1.2" opacity="0.32"/><circle cx="1476.5" cy="268.3" r="1.2" opacity="0.32"/><circle cx="1482.9" cy="271.1" r="1.2" opacity="0.33"/><circle cx="1485.4" cy="273.1" r="1.2" opacity="0.33"/><circle cx="1491.1" cy="276.9" r="1.2" opacity="0.34"/><circle cx="1498.2" cy="280.1" r="1.2" opacity="0.34"/><circle cx="1503.6" cy="282.0" r="1.2" opacity="0.35"/><circle cx="1508.8" cy="283.8" r="1.2" opacity="0.35"/><circle cx="1512.0" cy="284.0" r="1.3" opacity="0.36"/><circle cx="1519.5" cy="285.6" r="1.3" opacity="0.36"/><circle cx="1525.6" cy="286.2" r="1.3" opacity="0.37"/><circle cx="1532.7" cy="285.1" r="1.3" opacity="0.38"/><circle cx="1537.8" cy="287.9" r="1.3" opacity="0.38"/><circle cx="1542.9" cy="285.3" r="1.3" opacity="0.39"/><circle cx="1552.1" cy="287.7" r="1.3" opacity="0.39"/><circle cx="1556.5" cy="284.7" r="1.3" opacity="0.40"/><circle cx="1565.9" cy="286.4" r="1.3" opacity="0.40"/><circle cx="1572.1" cy="285.9" r="1.4" opacity="0.41"/><circle cx="1580.1" cy="286.6" r="1.4" opacity="0.41"/><circle cx="1585.2" cy="284.6" r="1.4" opacity="0.42"/><circle cx="1595.0" cy="287.7" r="1.4" opacity="0.42"/><circle cx="1602.6" cy="286.8" r="1.4" opacity="0.43"/><circle cx="1342.7" cy="240.6" r="0.9" opacity="0.19"/><circle cx="1350.7" cy="240.9" r="0.9" opacity="0.19"/><circle cx="1358.7" cy="240.7" r="0.9" opacity="0.20"/><circle cx="1366.3" cy="241.3" r="0.9" opacity="0.20"/><circle cx="1371.9" cy="242.6" r="1.0" opacity="0.21"/><circle cx="1378.5" cy="240.2" r="1.0" opacity="0.21"/><circle cx="1385.4" cy="241.0" r="1.0" opacity="0.22"/><circle cx="1393.5" cy="240.4" r="1.0" opacity="0.22"/><circle cx="1398.1" cy="241.2" r="1.0" opacity="0.23"/><circle cx="1404.3" cy="240.8" r="1.0" opacity="0.23"/><circle cx="1410.2" cy="242.1" r="1.0" opacity="0.24"/><circle cx="1415.8" cy="240.7" r="1.0" opacity="0.24"/><circle cx="1421.7" cy="241.8" r="1.0" opacity="0.25"/><circle cx="1428.4" cy="243.9" r="1.0" opacity="0.25"/><circle cx="1434.0" cy="245.0" r="1.1" opacity="0.26"/><circle cx="1437.0" cy="247.5" r="1.1" opacity="0.26"/><circle cx="1442.6" cy="248.0" r="1.1" opacity="0.27"/><circle cx="1448.1" cy="252.7" r="1.1" opacity="0.27"/><circle cx="1452.9" cy="253.4" r="1.1" opacity="0.28"/><circle cx="1459.4" cy="258.1" r="1.1" opacity="0.28"/><circle cx="1462.8" cy="258.4" r="1.1" opacity="0.29"/><circle cx="1468.9" cy="263.2" r="1.1" opacity="0.29"/><circle cx="1472.5" cy="266.1" r="1.1" opacity="0.30"/><circle cx="1477.6" cy="267.3" r="1.2" opacity="0.30"/><circle cx="1483.3" cy="271.1" r="1.2" opacity="0.31"/><circle cx="1488.1" cy="273.6" r="1.2" opacity="0.31"/><circle cx="1492.0" cy="274.5" r="1.2" opacity="0.32"/><circle cx="1498.5" cy="274.8" r="1.2" opacity="0.32"/><circle cx="1505.6" cy="276.3" r="1.2" opacity="0.33"/><circle cx="1509.2" cy="279.4" r="1.2" opacity="0.33"/><circle cx="1517.4" cy="280.2" r="1.2" opacity="0.34"/><circle cx="1521.6" cy="280.5" r="1.2" opacity="0.34"/><circle cx="1527.2" cy="279.9" r="1.2" opacity="0.35"/><circle cx="1536.0" cy="278.2" r="1.3" opacity="0.35"/><circle cx="1540.2" cy="279.5" r="1.3" opacity="0.36"/><circle cx="1549.2" cy="279.4" r="1.3" opacity="0.36"/><circle cx="1556.3" cy="278.5" r="1.3" opacity="0.37"/><circle cx="1561.6" cy="277.4" r="1.3" opacity="0.37"/><circle cx="1568.5" cy="280.1" r="1.3" opacity="0.38"/><circle cx="1575.2" cy="278.2" r="1.3" opacity="0.38"/><circle cx="1583.4" cy="278.5" r="1.3" opacity="0.39"/><circle cx="1590.8" cy="279.9" r="1.3" opacity="0.39"/><circle cx="1597.7" cy="282.3" r="1.4" opacity="0.40"/><circle cx="1349.4" cy="232.8" r="0.9" opacity="0.17"/><circle cx="1357.1" cy="231.6" r="0.9" opacity="0.18"/><circle cx="1362.0" cy="231.5" r="0.9" opacity="0.18"/><circle cx="1369.2" cy="233.4" r="0.9" opacity="0.19"/><circle cx="1377.8" cy="232.5" r="0.9" opacity="0.19"/><circle cx="1382.0" cy="231.8" r="0.9" opacity="0.20"/><circle cx="1389.7" cy="231.7" r="1.0" opacity="0.20"/><circle cx="1396.6" cy="234.0" r="1.0" opacity="0.20"/><circle cx="1401.6" cy="233.3" r="1.0" opacity="0.21"/><circle cx="1408.7" cy="233.6" r="1.0" opacity="0.21"/><circle cx="1412.4" cy="236.1" r="1.0" opacity="0.22"/><circle cx="1420.4" cy="234.8" r="1.0" opacity="0.22"/><circle cx="1425.1" cy="237.7" r="1.0" opacity="0.23"/><circle cx="1428.3" cy="239.0" r="1.0" opacity="0.23"/><circle cx="1433.8" cy="243.1" r="1.0" opacity="0.24"/><circle cx="1439.0" cy="243.6" r="1.0" opacity="0.24"/><circle cx="1444.0" cy="248.7" r="1.1" opacity="0.25"/><circle cx="1449.7" cy="251.1" r="1.1" opacity="0.25"/><circle cx="1454.5" cy="252.6" r="1.1" opacity="0.26"/><circle cx="1458.1" cy="255.9" r="1.1" opacity="0.26"/><circle cx="1463.1" cy="258.5" r="1.1" opacity="0.27"/><circle cx="1469.7" cy="261.5" r="1.1" opacity="0.27"/><circle cx="1474.3" cy="264.6" r="1.1" opacity="0.28"/><circle cx="1478.9" cy="265.8" r="1.1" opacity="0.28"/><circle cx="1485.8" cy="268.2" r="1.1" opacity="0.28"/><circle cx="1489.7" cy="269.5" r="1.1" opacity="0.29"/><circle cx="1495.3" cy="269.9" r="1.2" opacity="0.29"/><circle cx="1502.3" cy="270.4" r="1.2" opacity="0.30"/><circle cx="1508.1" cy="272.6" r="1.2" opacity="0.30"/><circle cx="1513.9" cy="270.8" r="1.2" opacity="0.31"/><circle cx="1518.9" cy="273.2" r="1.2" opacity="0.31"/><circle cx="1524.5" cy="270.6" r="1.2" opacity="0.32"/><circle cx="1532.3" cy="270.7" r="1.2" opacity="0.32"/><circle cx="1538.5" cy="270.3" r="1.2" opacity="0.33"/><circle cx="1546.4" cy="270.6" r="1.2" opacity="0.33"/><circle cx="1550.8" cy="272.0" r="1.2" opacity="0.34"/><circle cx="1558.6" cy="271.9" r="1.3" opacity="0.34"/><circle cx="1566.3" cy="273.7" r="1.3" opacity="0.35"/><circle cx="1573.7" cy="273.0" r="1.3" opacity="0.35"/><circle cx="1579.6" cy="274.7" r="1.3" opacity="0.35"/><circle cx="1587.9" cy="276.6" r="1.3" opacity="0.36"/><circle cx="1596.5" cy="278.2" r="1.3" opacity="0.36"/><circle cx="1602.4" cy="280.6" r="1.3" opacity="0.37"/><circle cx="1354.3" cy="223.3" r="0.9" opacity="0.16"/><circle cx="1359.7" cy="222.6" r="0.9" opacity="0.16"/><circle cx="1367.6" cy="222.9" r="0.9" opacity="0.17"/><circle cx="1374.4" cy="224.6" r="0.9" opacity="0.17"/><circle cx="1379.2" cy="225.1" r="0.9" opacity="0.18"/><circle cx="1386.3" cy="224.1" r="0.9" opacity="0.18"/><circle cx="1392.7" cy="226.3" r="0.9" opacity="0.19"/><circle cx="1398.5" cy="225.9" r="0.9" opacity="0.19"/><circle cx="1403.7" cy="228.4" r="1.0" opacity="0.19"/><circle cx="1410.0" cy="228.6" r="1.0" opacity="0.20"/><circle cx="1414.6" cy="230.2" r="1.0" opacity="0.20"/><circle cx="1421.9" cy="234.3" r="1.0" opacity="0.21"/><circle cx="1427.5" cy="237.2" r="1.0" opacity="0.21"/><circle cx="1431.8" cy="239.6" r="1.0" opacity="0.22"/><circle cx="1436.9" cy="242.5" r="1.0" opacity="0.22"/><circle cx="1442.1" cy="243.6" r="1.0" opacity="0.22"/><circle cx="1447.1" cy="246.9" r="1.0" opacity="0.23"/><circle cx="1450.3" cy="251.6" r="1.0" opacity="0.23"/><circle cx="1454.5" cy="253.1" r="1.1" opacity="0.24"/><circle cx="1460.4" cy="256.4" r="1.1" opacity="0.24"/><circle cx="1466.1" cy="259.0" r="1.1" opacity="0.25"/><circle cx="1472.1" cy="260.0" r="1.1" opacity="0.25"/><circle cx="1474.7" cy="261.6" r="1.1" opacity="0.26"/><circle cx="1480.0" cy="263.8" r="1.1" opacity="0.26"/><circle cx="1487.7" cy="262.6" r="1.1" opacity="0.26"/><circle cx="1491.1" cy="264.3" r="1.1" opacity="0.27"/><circle cx="1498.5" cy="265.5" r="1.1" opacity="0.27"/><circle cx="1503.9" cy="263.0" r="1.1" opacity="0.28"/><circle cx="1510.2" cy="262.7" r="1.1" opacity="0.28"/><circle cx="1516.8" cy="264.7" r="1.2" opacity="0.29"/><circle cx="1522.9" cy="264.9" r="1.2" opacity="0.29"/><circle cx="1528.7" cy="265.1" r="1.2" opacity="0.29"/><circle cx="1535.6" cy="263.8" r="1.2" opacity="0.30"/><circle cx="1541.7" cy="263.7" r="1.2" opacity="0.30"/><circle cx="1547.6" cy="263.8" r="1.2" opacity="0.31"/><circle cx="1557.1" cy="264.9" r="1.2" opacity="0.31"/><circle cx="1563.9" cy="267.8" r="1.2" opacity="0.32"/><circle cx="1571.4" cy="268.6" r="1.2" opacity="0.32"/><circle cx="1577.7" cy="269.8" r="1.2" opacity="0.32"/><circle cx="1584.8" cy="273.2" r="1.2" opacity="0.33"/><circle cx="1593.9" cy="276.6" r="1.3" opacity="0.33"/><circle cx="1600.4" cy="279.2" r="1.3" opacity="0.34"/><circle cx="1358.3" cy="215.3" r="0.9" opacity="0.15"/><circle cx="1365.1" cy="215.9" r="0.9" opacity="0.15"/><circle cx="1369.9" cy="214.8" r="0.9" opacity="0.16"/><circle cx="1376.9" cy="216.0" r="0.9" opacity="0.16"/><circle cx="1381.8" cy="218.1" r="0.9" opacity="0.16"/><circle cx="1389.4" cy="218.2" r="0.9" opacity="0.17"/><circle cx="1396.0" cy="219.1" r="0.9" opacity="0.17"/><circle cx="1400.1" cy="222.1" r="0.9" opacity="0.18"/><circle cx="1405.8" cy="223.6" r="0.9" opacity="0.18"/><circle cx="1410.8" cy="225.3" r="0.9" opacity="0.18"/><circle cx="1417.0" cy="229.5" r="1.0" opacity="0.19"/><circle cx="1424.0" cy="232.8" r="1.0" opacity="0.19"/><circle cx="1427.4" cy="235.1" r="1.0" opacity="0.20"/><circle cx="1431.9" cy="238.3" r="1.0" opacity="0.20"/><circle cx="1439.0" cy="240.1" r="1.0" opacity="0.20"/><circle cx="1442.4" cy="244.6" r="1.0" opacity="0.21"/><circle cx="1448.3" cy="246.8" r="1.0" opacity="0.21"/><circle cx="1452.8" cy="250.3" r="1.0" opacity="0.22"/><circle cx="1458.5" cy="250.2" r="1.0" opacity="0.22"/><circle cx="1462.4" cy="254.1" r="1.0" opacity="0.22"/><circle cx="1467.4" cy="253.0" r="1.0" opacity="0.23"/><circle cx="1473.3" cy="253.6" r="1.1" opacity="0.23"/><circle cx="1476.7" cy="255.8" r="1.1" opacity="0.24"/><circle cx="1482.4" cy="256.7" r="1.1" opacity="0.24"/><circle cx="1489.4" cy="255.7" r="1.1" opacity="0.24"/><circle cx="1495.2" cy="256.7" r="1.1" opacity="0.25"/><circle cx="1500.9" cy="256.0" r="1.1" opacity="0.25"/><circle cx="1506.1" cy="254.9" r="1.1" opacity="0.26"/><circle cx="1512.4" cy="257.4" r="1.1" opacity="0.26"/><circle cx="1520.1" cy="254.8" r="1.1" opacity="0.26"/><circle cx="1524.2" cy="255.7" r="1.1" opacity="0.27"/><circle cx="1532.8" cy="256.8" r="1.1" opacity="0.27"/><circle cx="1538.0" cy="257.6" r="1.1" opacity="0.28"/><circle cx="1546.4" cy="259.7" r="1.2" opacity="0.28"/><circle cx="1553.0" cy="261.0" r="1.2" opacity="0.28"/><circle cx="1561.2" cy="262.7" r="1.2" opacity="0.29"/><circle cx="1566.6" cy="265.2" r="1.2" opacity="0.29"/><circle cx="1574.4" cy="265.7" r="1.2" opacity="0.30"/><circle cx="1582.9" cy="268.3" r="1.2" opacity="0.30"/><circle cx="1589.2" cy="272.3" r="1.2" opacity="0.30"/><circle cx="1598.0" cy="274.4" r="1.2" opacity="0.31"/><circle cx="1360.6" cy="207.2" r="0.9" opacity="0.14"/><circle cx="1366.7" cy="209.2" r="0.9" opacity="0.14"/><circle cx="1372.6" cy="208.4" r="0.9" opacity="0.14"/><circle cx="1379.1" cy="211.7" r="0.9" opacity="0.15"/><circle cx="1386.1" cy="212.2" r="0.9" opacity="0.15"/><circle cx="1391.6" cy="215.8" r="0.9" opacity="0.15"/><circle cx="1396.9" cy="218.1" r="0.9" opacity="0.16"/><circle cx="1403.8" cy="219.8" r="0.9" opacity="0.16"/><circle cx="1408.2" cy="222.6" r="0.9" opacity="0.16"/><circle cx="1413.8" cy="225.3" r="0.9" opacity="0.17"/><circle cx="1419.5" cy="228.6" r="0.9" opacity="0.17"/><circle cx="1423.6" cy="232.7" r="0.9" opacity="0.18"/><circle cx="1429.0" cy="234.7" r="1.0" opacity="0.18"/><circle cx="1435.2" cy="237.3" r="1.0" opacity="0.18"/><circle cx="1438.6" cy="241.1" r="1.0" opacity="0.19"/><circle cx="1445.3" cy="242.9" r="1.0" opacity="0.19"/><circle cx="1448.5" cy="244.4" r="1.0" opacity="0.19"/><circle cx="1454.4" cy="244.7" r="1.0" opacity="0.20"/><circle cx="1459.4" cy="247.8" r="1.0" opacity="0.20"/><circle cx="1464.3" cy="247.8" r="1.0" opacity="0.21"/><circle cx="1468.8" cy="248.2" r="1.0" opacity="0.21"/><circle cx="1473.5" cy="248.9" r="1.0" opacity="0.21"/><circle cx="1479.8" cy="249.6" r="1.0" opacity="0.22"/><circle cx="1484.8" cy="248.8" r="1.0" opacity="0.22"/><circle cx="1489.6" cy="247.8" r="1.1" opacity="0.22"/><circle cx="1497.8" cy="247.3" r="1.1" opacity="0.23"/><circle cx="1503.4" cy="247.3" r="1.1" opacity="0.23"/><circle cx="1509.1" cy="249.9" r="1.1" opacity="0.23"/><circle cx="1514.9" cy="250.2" r="1.1" opacity="0.24"/><circle cx="1521.1" cy="250.0" r="1.1" opacity="0.24"/><circle cx="1530.2" cy="251.9" r="1.1" opacity="0.25"/><circle cx="1535.8" cy="252.6" r="1.1" opacity="0.25"/><circle cx="1543.9" cy="254.9" r="1.1" opacity="0.25"/><circle cx="1551.2" cy="256.5" r="1.1" opacity="0.26"/><circle cx="1557.0" cy="259.3" r="1.1" opacity="0.26"/><circle cx="1565.4" cy="261.5" r="1.1" opacity="0.26"/><circle cx="1574.1" cy="263.1" r="1.2" opacity="0.27"/><circle cx="1581.0" cy="266.7" r="1.2" opacity="0.27"/><circle cx="1588.4" cy="271.6" r="1.2" opacity="0.28"/><circle cx="1594.6" cy="273.5" r="1.2" opacity="0.28"/><circle cx="1602.9" cy="276.2" r="1.2" opacity="0.28"/><circle cx="1365.4" cy="201.5" r="0.8" opacity="0.12"/><circle cx="1369.9" cy="203.8" r="0.8" opacity="0.13"/><circle cx="1376.5" cy="204.0" r="0.9" opacity="0.13"/><circle cx="1383.1" cy="207.4" r="0.9" opacity="0.13"/><circle cx="1388.7" cy="211.7" r="0.9" opacity="0.14"/><circle cx="1394.5" cy="214.5" r="0.9" opacity="0.14"/><circle cx="1399.4" cy="216.9" r="0.9" opacity="0.14"/><circle cx="1403.9" cy="218.6" r="0.9" opacity="0.15"/><circle cx="1411.0" cy="222.9" r="0.9" opacity="0.15"/><circle cx="1416.6" cy="224.9" r="0.9" opacity="0.15"/><circle cx="1419.9" cy="227.6" r="0.9" opacity="0.16"/><circle cx="1425.7" cy="229.2" r="0.9" opacity="0.16"/><circle cx="1430.1" cy="233.3" r="0.9" opacity="0.16"/><circle cx="1434.4" cy="234.2" r="0.9" opacity="0.17"/><circle cx="1441.4" cy="237.7" r="0.9" opacity="0.17"/><circle cx="1444.5" cy="236.7" r="1.0" opacity="0.17"/><circle cx="1449.0" cy="237.4" r="1.0" opacity="0.18"/><circle cx="1456.1" cy="240.0" r="1.0" opacity="0.18"/><circle cx="1459.6" cy="239.6" r="1.0" opacity="0.18"/><circle cx="1466.1" cy="238.4" r="1.0" opacity="0.19"/><circle cx="1471.8" cy="241.0" r="1.0" opacity="0.19"/><circle cx="1475.5" cy="240.5" r="1.0" opacity="0.19"/><circle cx="1482.6" cy="239.4" r="1.0" opacity="0.20"/><circle cx="1488.9" cy="239.1" r="1.0" opacity="0.20"/><circle cx="1493.7" cy="239.6" r="1.0" opacity="0.20"/><circle cx="1499.7" cy="241.6" r="1.0" opacity="0.21"/><circle cx="1506.4" cy="241.7" r="1.0" opacity="0.21"/><circle cx="1514.2" cy="241.7" r="1.0" opacity="0.21"/><circle cx="1518.6" cy="244.2" r="1.1" opacity="0.22"/><circle cx="1525.2" cy="247.0" r="1.1" opacity="0.22"/><circle cx="1532.8" cy="247.5" r="1.1" opacity="0.22"/><circle cx="1540.2" cy="251.1" r="1.1" opacity="0.23"/><circle cx="1548.9" cy="253.3" r="1.1" opacity="0.23"/><circle cx="1554.0" cy="255.2" r="1.1" opacity="0.23"/><circle cx="1563.0" cy="257.8" r="1.1" opacity="0.24"/><circle cx="1571.0" cy="262.8" r="1.1" opacity="0.24"/><circle cx="1576.6" cy="264.3" r="1.1" opacity="0.24"/><circle cx="1584.2" cy="268.4" r="1.1" opacity="0.25"/><circle cx="1591.2" cy="271.2" r="1.1" opacity="0.25"/><circle cx="1598.7" cy="274.2" r="1.1" opacity="0.25"/><circle cx="1366.2" cy="196.2" r="0.8" opacity="0.11"/><circle cx="1373.1" cy="201.7" r="0.8" opacity="0.12"/><circle cx="1379.8" cy="204.3" r="0.8" opacity="0.12"/><circle cx="1384.0" cy="205.0" r="0.8" opacity="0.12"/><circle cx="1389.5" cy="209.9" r="0.8" opacity="0.12"/><circle cx="1395.4" cy="211.7" r="0.9" opacity="0.13"/><circle cx="1402.2" cy="216.1" r="0.9" opacity="0.13"/><circle cx="1406.4" cy="218.3" r="0.9" opacity="0.13"/><circle cx="1411.4" cy="221.2" r="0.9" opacity="0.14"/><circle cx="1416.6" cy="223.0" r="0.9" opacity="0.14"/><circle cx="1421.3" cy="224.9" r="0.9" opacity="0.14"/><circle cx="1426.2" cy="225.8" r="0.9" opacity="0.15"/><circle cx="1431.3" cy="229.0" r="0.9" opacity="0.15"/><circle cx="1436.0" cy="228.6" r="0.9" opacity="0.15"/><circle cx="1442.7" cy="230.4" r="0.9" opacity="0.15"/><circle cx="1446.6" cy="230.4" r="0.9" opacity="0.16"/><circle cx="1452.8" cy="232.0" r="0.9" opacity="0.16"/><circle cx="1457.2" cy="231.9" r="0.9" opacity="0.16"/><circle cx="1462.6" cy="231.4" r="1.0" opacity="0.17"/><circle cx="1467.2" cy="231.1" r="1.0" opacity="0.17"/><circle cx="1473.0" cy="231.5" r="1.0" opacity="0.17"/><circle cx="1478.7" cy="231.9" r="1.0" opacity="0.18"/><circle cx="1485.4" cy="233.4" r="1.0" opacity="0.18"/><circle cx="1489.7" cy="231.5" r="1.0" opacity="0.18"/><circle cx="1496.1" cy="232.5" r="1.0" opacity="0.19"/><circle cx="1504.0" cy="235.6" r="1.0" opacity="0.19"/><circle cx="1509.0" cy="236.0" r="1.0" opacity="0.19"/><circle cx="1517.5" cy="240.0" r="1.0" opacity="0.19"/><circle cx="1523.8" cy="241.9" r="1.0" opacity="0.20"/><circle cx="1531.0" cy="243.8" r="1.0" opacity="0.20"/><circle cx="1537.2" cy="246.9" r="1.0" opacity="0.20"/><circle cx="1545.9" cy="251.2" r="1.0" opacity="0.21"/><circle cx="1553.4" cy="253.9" r="1.1" opacity="0.21"/><circle cx="1558.3" cy="255.2" r="1.1" opacity="0.21"/><circle cx="1568.5" cy="259.2" r="1.1" opacity="0.22"/><circle cx="1574.7" cy="261.4" r="1.1" opacity="0.22"/><circle cx="1583.3" cy="264.8" r="1.1" opacity="0.22"/><circle cx="1591.2" cy="265.9" r="1.1" opacity="0.23"/><circle cx="1598.7" cy="267.9" r="1.1" opacity="0.23"/><circle cx="1603.6" cy="270.9" r="1.1" opacity="0.23"/><circle cx="1370.7" cy="194.9" r="0.8" opacity="0.10"/><circle cx="1376.4" cy="200.5" r="0.8" opacity="0.10"/><circle cx="1381.8" cy="203.1" r="0.8" opacity="0.11"/><circle cx="1387.8" cy="205.7" r="0.8" opacity="0.11"/><circle cx="1392.0" cy="208.3" r="0.8" opacity="0.11"/><circle cx="1399.5" cy="211.7" r="0.8" opacity="0.11"/><circle cx="1402.6" cy="213.6" r="0.8" opacity="0.12"/><circle cx="1408.6" cy="215.5" r="0.9" opacity="0.12"/><circle cx="1413.7" cy="218.2" r="0.9" opacity="0.12"/><circle cx="1417.0" cy="218.6" r="0.9" opacity="0.13"/><circle cx="1423.8" cy="219.8" r="0.9" opacity="0.13"/><circle cx="1427.0" cy="222.3" r="0.9" opacity="0.13"/><circle cx="1432.6" cy="223.5" r="0.9" opacity="0.13"/><circle cx="1438.3" cy="221.3" r="0.9" opacity="0.14"/><circle cx="1443.5" cy="222.0" r="0.9" opacity="0.14"/><circle cx="1449.1" cy="223.4" r="0.9" opacity="0.14"/><circle cx="1454.1" cy="221.5" r="0.9" opacity="0.15"/><circle cx="1457.2" cy="223.8" r="0.9" opacity="0.15"/><circle cx="1463.0" cy="222.3" r="0.9" opacity="0.15"/><circle cx="1468.2" cy="222.5" r="0.9" opacity="0.15"/><circle cx="1475.3" cy="225.6" r="0.9" opacity="0.16"/><circle cx="1480.7" cy="224.4" r="0.9" opacity="0.16"/><circle cx="1488.3" cy="225.5" r="1.0" opacity="0.16"/><circle cx="1494.0" cy="228.4" r="1.0" opacity="0.16"/><circle cx="1501.3" cy="228.6" r="1.0" opacity="0.17"/><circle cx="1506.8" cy="231.9" r="1.0" opacity="0.17"/><circle cx="1514.4" cy="234.1" r="1.0" opacity="0.17"/><circle cx="1521.0" cy="236.7" r="1.0" opacity="0.18"/><circle cx="1527.4" cy="242.1" r="1.0" opacity="0.18"/><circle cx="1533.8" cy="243.1" r="1.0" opacity="0.18"/><circle cx="1543.2" cy="247.5" r="1.0" opacity="0.18"/><circle cx="1548.0" cy="249.1" r="1.0" opacity="0.19"/><circle cx="1556.0" cy="252.5" r="1.0" opacity="0.19"/><circle cx="1565.4" cy="256.5" r="1.0" opacity="0.19"/><circle cx="1573.3" cy="259.1" r="1.0" opacity="0.19"/><circle cx="1579.8" cy="260.5" r="1.0" opacity="0.20"/><circle cx="1587.6" cy="262.8" r="1.0" opacity="0.20"/><circle cx="1593.1" cy="264.5" r="1.1" opacity="0.20"/><circle cx="1601.5" cy="265.9" r="1.1" opacity="0.21"/><circle cx="1374.3" cy="194.8" r="0.8" opacity="0.09"/><circle cx="1378.1" cy="197.2" r="0.8" opacity="0.09"/><circle cx="1384.4" cy="202.4" r="0.8" opacity="0.10"/><circle cx="1388.6" cy="203.8" r="0.8" opacity="0.10"/><circle cx="1394.8" cy="206.9" r="0.8" opacity="0.10"/><circle cx="1400.1" cy="207.4" r="0.8" opacity="0.10"/><circle cx="1404.0" cy="210.5" r="0.8" opacity="0.11"/><circle cx="1408.7" cy="212.3" r="0.8" opacity="0.11"/><circle cx="1413.5" cy="211.3" r="0.8" opacity="0.11"/><circle cx="1419.7" cy="214.0" r="0.8" opacity="0.11"/><circle cx="1425.0" cy="214.2" r="0.9" opacity="0.12"/><circle cx="1430.3" cy="214.4" r="0.9" opacity="0.12"/><circle cx="1433.2" cy="214.8" r="0.9" opacity="0.12"/><circle cx="1438.5" cy="213.0" r="0.9" opacity="0.12"/><circle cx="1443.2" cy="212.7" r="0.9" opacity="0.12"/><circle cx="1451.0" cy="213.9" r="0.9" opacity="0.13"/><circle cx="1453.9" cy="213.3" r="0.9" opacity="0.13"/><circle cx="1461.7" cy="215.6" r="0.9" opacity="0.13"/><circle cx="1467.5" cy="214.8" r="0.9" opacity="0.13"/><circle cx="1470.9" cy="216.8" r="0.9" opacity="0.14"/><circle cx="1477.1" cy="217.8" r="0.9" opacity="0.14"/><circle cx="1483.2" cy="221.3" r="0.9" opacity="0.14"/><circle cx="1489.5" cy="222.1" r="0.9" opacity="0.14"/><circle cx="1497.1" cy="225.2" r="0.9" opacity="0.15"/><circle cx="1502.6" cy="228.6" r="0.9" opacity="0.15"/><circle cx="1510.4" cy="231.1" r="0.9" opacity="0.15"/><circle cx="1517.3" cy="233.1" r="1.0" opacity="0.15"/><circle cx="1524.9" cy="236.8" r="1.0" opacity="0.16"/><circle cx="1531.3" cy="239.4" r="1.0" opacity="0.16"/><circle cx="1540.3" cy="244.3" r="1.0" opacity="0.16"/><circle cx="1546.2" cy="247.1" r="1.0" opacity="0.16"/><circle cx="1555.3" cy="248.5" r="1.0" opacity="0.17"/><circle cx="1561.2" cy="252.7" r="1.0" opacity="0.17"/><circle cx="1568.7" cy="254.8" r="1.0" opacity="0.17"/><circle cx="1577.9" cy="254.6" r="1.0" opacity="0.17"/><circle cx="1583.5" cy="256.8" r="1.0" opacity="0.18"/><circle cx="1592.4" cy="259.4" r="1.0" opacity="0.18"/><circle cx="1599.6" cy="260.6" r="1.0" opacity="0.18"/><circle cx="1605.4" cy="259.6" r="1.0" opacity="0.18"/><circle cx="1376.3" cy="194.4" r="0.8" opacity="0.08"/><circle cx="1379.5" cy="197.5" r="0.8" opacity="0.08"/><circle cx="1386.8" cy="199.3" r="0.8" opacity="0.08"/><circle cx="1390.9" cy="200.4" r="0.8" opacity="0.09"/><circle cx="1397.8" cy="202.7" r="0.8" opacity="0.09"/><circle cx="1401.6" cy="203.9" r="0.8" opacity="0.09"/><circle cx="1407.9" cy="204.6" r="0.8" opacity="0.09"/><circle cx="1411.8" cy="205.5" r="0.8" opacity="0.10"/><circle cx="1415.1" cy="204.2" r="0.8" opacity="0.10"/><circle cx="1421.3" cy="203.6" r="0.8" opacity="0.10"/><circle cx="1426.8" cy="203.6" r="0.8" opacity="0.10"/><circle cx="1431.3" cy="204.4" r="0.8" opacity="0.10"/><circle cx="1435.5" cy="205.6" r="0.8" opacity="0.11"/><circle cx="1440.2" cy="205.4" r="0.8" opacity="0.11"/><circle cx="1447.4" cy="207.6" r="0.9" opacity="0.11"/><circle cx="1451.0" cy="206.6" r="0.9" opacity="0.11"/><circle cx="1457.8" cy="207.2" r="0.9" opacity="0.11"/><circle cx="1464.0" cy="208.8" r="0.9" opacity="0.12"/><circle cx="1468.9" cy="211.0" r="0.9" opacity="0.12"/><circle cx="1473.3" cy="212.2" r="0.9" opacity="0.12"/><circle cx="1479.5" cy="215.6" r="0.9" opacity="0.12"/><circle cx="1486.7" cy="220.4" r="0.9" opacity="0.13"/><circle cx="1494.3" cy="220.6" r="0.9" opacity="0.13"/><circle cx="1501.2" cy="224.2" r="0.9" opacity="0.13"/><circle cx="1507.4" cy="228.9" r="0.9" opacity="0.13"/><circle cx="1515.6" cy="232.8" r="0.9" opacity="0.13"/><circle cx="1521.4" cy="234.1" r="0.9" opacity="0.14"/><circle cx="1528.6" cy="237.1" r="0.9" opacity="0.14"/><circle cx="1537.0" cy="240.4" r="0.9" opacity="0.14"/><circle cx="1544.3" cy="242.0" r="0.9" opacity="0.14"/><circle cx="1552.1" cy="246.7" r="0.9" opacity="0.15"/><circle cx="1557.9" cy="247.6" r="1.0" opacity="0.15"/><circle cx="1565.3" cy="247.5" r="1.0" opacity="0.15"/><circle cx="1573.6" cy="249.1" r="1.0" opacity="0.15"/><circle cx="1582.1" cy="251.2" r="1.0" opacity="0.15"/><circle cx="1589.4" cy="253.1" r="1.0" opacity="0.16"/><circle cx="1594.9" cy="250.9" r="1.0" opacity="0.16"/><circle cx="1602.1" cy="252.2" r="1.0" opacity="0.16"/><circle cx="1377.4" cy="191.1" r="0.8" opacity="0.07"/><circle cx="1382.2" cy="190.5" r="0.8" opacity="0.07"/><circle cx="1388.2" cy="191.5" r="0.8" opacity="0.07"/><circle cx="1392.0" cy="192.5" r="0.8" opacity="0.08"/><circle cx="1396.8" cy="193.3" r="0.8" opacity="0.08"/><circle cx="1402.9" cy="193.9" r="0.8" opacity="0.08"/><circle cx="1408.0" cy="196.3" r="0.8" opacity="0.08"/><circle cx="1412.1" cy="194.4" r="0.8" opacity="0.08"/><circle cx="1418.0" cy="196.4" r="0.8" opacity="0.09"/><circle cx="1423.6" cy="196.1" r="0.8" opacity="0.09"/><circle cx="1427.7" cy="197.4" r="0.8" opacity="0.09"/><circle cx="1433.0" cy="198.3" r="0.8" opacity="0.09"/><circle cx="1437.0" cy="198.5" r="0.8" opacity="0.09"/><circle cx="1443.3" cy="198.7" r="0.8" opacity="0.09"/><circle cx="1446.9" cy="200.1" r="0.8" opacity="0.10"/><circle cx="1453.2" cy="202.2" r="0.8" opacity="0.10"/><circle cx="1459.7" cy="204.1" r="0.8" opacity="0.10"/><circle cx="1464.2" cy="205.4" r="0.8" opacity="0.10"/><circle cx="1471.9" cy="209.7" r="0.9" opacity="0.10"/><circle cx="1479.3" cy="213.0" r="0.9" opacity="0.11"/><circle cx="1483.6" cy="215.1" r="0.9" opacity="0.11"/><circle cx="1490.9" cy="219.4" r="0.9" opacity="0.11"/><circle cx="1497.3" cy="223.1" r="0.9" opacity="0.11"/><circle cx="1504.5" cy="224.7" r="0.9" opacity="0.11"/><circle cx="1511.5" cy="227.7" r="0.9" opacity="0.12"/><circle cx="1520.3" cy="229.7" r="0.9" opacity="0.12"/><circle cx="1525.8" cy="232.5" r="0.9" opacity="0.12"/><circle cx="1534.0" cy="235.1" r="0.9" opacity="0.12"/><circle cx="1539.9" cy="238.0" r="0.9" opacity="0.12"/><circle cx="1548.8" cy="240.8" r="0.9" opacity="0.13"/><circle cx="1555.8" cy="240.7" r="0.9" opacity="0.13"/><circle cx="1563.2" cy="243.6" r="0.9" opacity="0.13"/><circle cx="1570.2" cy="241.7" r="0.9" opacity="0.13"/><circle cx="1579.7" cy="243.7" r="0.9" opacity="0.13"/><circle cx="1584.9" cy="243.0" r="0.9" opacity="0.13"/><circle cx="1594.5" cy="245.0" r="0.9" opacity="0.14"/><circle cx="1599.3" cy="245.0" r="0.9" opacity="0.14"/><circle cx="1379.4" cy="182.6" r="0.7" opacity="0.06"/><circle cx="1385.6" cy="184.3" r="0.7" opacity="0.06"/><circle cx="1388.2" cy="186.2" r="0.8" opacity="0.06"/><circle cx="1393.1" cy="184.4" r="0.8" opacity="0.07"/><circle cx="1399.7" cy="185.9" r="0.8" opacity="0.07"/><circle cx="1405.3" cy="187.1" r="0.8" opacity="0.07"/><circle cx="1408.1" cy="185.1" r="0.8" opacity="0.07"/><circle cx="1414.2" cy="186.7" r="0.8" opacity="0.07"/><circle cx="1418.3" cy="188.6" r="0.8" opacity="0.07"/><circle cx="1423.0" cy="188.5" r="0.8" opacity="0.08"/><circle cx="1427.7" cy="190.4" r="0.8" opacity="0.08"/><circle cx="1435.5" cy="190.8" r="0.8" opacity="0.08"/><circle cx="1438.9" cy="192.8" r="0.8" opacity="0.08"/><circle cx="1446.2" cy="195.1" r="0.8" opacity="0.08"/><circle cx="1449.2" cy="196.6" r="0.8" opacity="0.08"/><circle cx="1455.2" cy="199.4" r="0.8" opacity="0.09"/><circle cx="1463.6" cy="203.3" r="0.8" opacity="0.09"/><circle cx="1467.6" cy="205.5" r="0.8" opacity="0.09"/><circle cx="1474.1" cy="207.6" r="0.8" opacity="0.09"/><circle cx="1481.9" cy="212.7" r="0.8" opacity="0.09"/><circle cx="1487.3" cy="214.9" r="0.8" opacity="0.09"/><circle cx="1495.2" cy="219.1" r="0.8" opacity="0.09"/><circle cx="1501.5" cy="220.3" r="0.8" opacity="0.10"/><circle cx="1507.5" cy="223.2" r="0.8" opacity="0.10"/><circle cx="1516.9" cy="226.7" r="0.9" opacity="0.10"/><circle cx="1523.7" cy="228.6" r="0.9" opacity="0.10"/><circle cx="1530.3" cy="229.9" r="0.9" opacity="0.10"/><circle cx="1539.6" cy="232.7" r="0.9" opacity="0.10"/><circle cx="1544.6" cy="234.2" r="0.9" opacity="0.11"/><circle cx="1553.5" cy="234.8" r="0.9" opacity="0.11"/><circle cx="1561.6" cy="235.4" r="0.9" opacity="0.11"/><circle cx="1569.4" cy="236.9" r="0.9" opacity="0.11"/><circle cx="1575.5" cy="236.2" r="0.9" opacity="0.11"/><circle cx="1582.8" cy="235.7" r="0.9" opacity="0.11"/><circle cx="1590.1" cy="236.7" r="0.9" opacity="0.12"/><circle cx="1597.2" cy="236.1" r="0.9" opacity="0.12"/><circle cx="1605.8" cy="237.9" r="0.9" opacity="0.12"/><circle cx="1380.4" cy="176.3" r="0.7" opacity="0.05"/><circle cx="1385.0" cy="175.7" r="0.7" opacity="0.05"/><circle cx="1389.5" cy="177.4" r="0.7" opacity="0.05"/><circle cx="1396.9" cy="176.1" r="0.7" opacity="0.06"/><circle cx="1400.2" cy="175.9" r="0.7" opacity="0.06"/><circle cx="1404.4" cy="178.0" r="0.7" opacity="0.06"/><circle cx="1411.5" cy="177.0" r="0.8" opacity="0.06"/><circle cx="1414.6" cy="180.1" r="0.8" opacity="0.06"/><circle cx="1419.5" cy="181.7" r="0.8" opacity="0.06"/><circle cx="1425.0" cy="182.1" r="0.8" opacity="0.06"/><circle cx="1429.8" cy="183.6" r="0.8" opacity="0.07"/><circle cx="1435.8" cy="185.8" r="0.8" opacity="0.07"/><circle cx="1442.2" cy="187.7" r="0.8" opacity="0.07"/><circle cx="1447.6" cy="192.9" r="0.8" opacity="0.07"/><circle cx="1452.5" cy="194.2" r="0.8" opacity="0.07"/><circle cx="1457.9" cy="197.1" r="0.8" opacity="0.07"/><circle cx="1466.1" cy="202.1" r="0.8" opacity="0.07"/><circle cx="1470.1" cy="205.0" r="0.8" opacity="0.07"/><circle cx="1478.4" cy="207.8" r="0.8" opacity="0.08"/><circle cx="1483.4" cy="211.3" r="0.8" opacity="0.08"/><circle cx="1491.2" cy="215.8" r="0.8" opacity="0.08"/><circle cx="1498.2" cy="218.3" r="0.8" opacity="0.08"/><circle cx="1506.9" cy="219.7" r="0.8" opacity="0.08"/><circle cx="1511.9" cy="222.4" r="0.8" opacity="0.08"/><circle cx="1519.2" cy="223.3" r="0.8" opacity="0.08"/><circle cx="1526.7" cy="223.2" r="0.8" opacity="0.09"/><circle cx="1535.1" cy="224.4" r="0.8" opacity="0.09"/><circle cx="1544.4" cy="226.4" r="0.8" opacity="0.09"/><circle cx="1551.7" cy="228.1" r="0.8" opacity="0.09"/><circle cx="1558.8" cy="227.5" r="0.8" opacity="0.09"/><circle cx="1565.4" cy="228.2" r="0.9" opacity="0.09"/><circle cx="1573.5" cy="226.6" r="0.9" opacity="0.09"/><circle cx="1580.4" cy="227.7" r="0.9" opacity="0.10"/><circle cx="1587.7" cy="229.0" r="0.9" opacity="0.10"/><circle cx="1595.3" cy="229.2" r="0.9" opacity="0.10"/><circle cx="1602.7" cy="230.9" r="0.9" opacity="0.10"/><circle cx="1415.5" cy="173.0" r="0.7" opacity="0.05"/><circle cx="1423.3" cy="175.7" r="0.7" opacity="0.05"/><circle cx="1427.1" cy="178.7" r="0.7" opacity="0.05"/><circle cx="1432.8" cy="181.0" r="0.7" opacity="0.05"/><circle cx="1439.0" cy="184.3" r="0.7" opacity="0.06"/><circle cx="1444.9" cy="188.9" r="0.8" opacity="0.06"/><circle cx="1448.3" cy="191.5" r="0.8" opacity="0.06"/><circle cx="1454.6" cy="195.9" r="0.8" opacity="0.06"/><circle cx="1460.8" cy="197.4" r="0.8" opacity="0.06"/><circle cx="1469.3" cy="201.6" r="0.8" opacity="0.06"/><circle cx="1475.5" cy="204.1" r="0.8" opacity="0.06"/><circle cx="1481.8" cy="206.3" r="0.8" opacity="0.06"/><circle cx="1488.6" cy="208.9" r="0.8" opacity="0.06"/><circle cx="1496.3" cy="210.6" r="0.8" opacity="0.07"/><circle cx="1501.8" cy="212.7" r="0.8" opacity="0.07"/><circle cx="1510.3" cy="215.3" r="0.8" opacity="0.07"/><circle cx="1516.1" cy="217.7" r="0.8" opacity="0.07"/><circle cx="1526.1" cy="216.7" r="0.8" opacity="0.07"/><circle cx="1531.6" cy="218.7" r="0.8" opacity="0.07"/><circle cx="1541.6" cy="217.2" r="0.8" opacity="0.07"/><circle cx="1548.5" cy="219.4" r="0.8" opacity="0.07"/><circle cx="1556.5" cy="217.9" r="0.8" opacity="0.07"/><circle cx="1561.6" cy="218.1" r="0.8" opacity="0.08"/><circle cx="1569.3" cy="220.7" r="0.8" opacity="0.08"/><circle cx="1578.7" cy="220.1" r="0.8" opacity="0.08"/><circle cx="1583.6" cy="220.6" r="0.8" opacity="0.08"/><circle cx="1591.1" cy="222.6" r="0.8" opacity="0.08"/><circle cx="1599.5" cy="224.5" r="0.8" opacity="0.08"/><circle cx="1605.5" cy="225.3" r="0.8" opacity="0.08"/><circle cx="1478.7" cy="201.5" r="0.7" opacity="0.05"/><circle cx="1485.6" cy="204.4" r="0.8" opacity="0.05"/><circle cx="1493.5" cy="204.9" r="0.8" opacity="0.05"/><circle cx="1500.3" cy="205.6" r="0.8" opacity="0.05"/><circle cx="1506.0" cy="207.3" r="0.8" opacity="0.05"/><circle cx="1514.4" cy="207.0" r="0.8" opacity="0.05"/><circle cx="1521.0" cy="208.7" r="0.8" opacity="0.06"/><circle cx="1531.1" cy="210.3" r="0.8" opacity="0.06"/><circle cx="1536.0" cy="209.1" r="0.8" opacity="0.06"/><circle cx="1544.5" cy="209.4" r="0.8" opacity="0.06"/><circle cx="1551.3" cy="210.7" r="0.8" opacity="0.06"/><circle cx="1560.9" cy="210.7" r="0.8" opacity="0.06"/><circle cx="1566.4" cy="210.7" r="0.8" opacity="0.06"/><circle cx="1573.2" cy="213.8" r="0.8" opacity="0.06"/><circle cx="1581.0" cy="215.1" r="0.8" opacity="0.06"/><circle cx="1589.8" cy="214.9" r="0.8" opacity="0.06"/><circle cx="1594.9" cy="217.7" r="0.8" opacity="0.07"/><circle cx="1603.4" cy="221.4" r="0.8" opacity="0.07"/><circle cx="1599.2" cy="216.6" r="0.8" opacity="0.05"/><circle cx="1565.3" cy="51.3" r="1.0" opacity="0.22"/><circle cx="1490.6" cy="36.4" r="0.6" opacity="0.30"/><circle cx="1510.0" cy="204.2" r="0.6" opacity="0.46"/><circle cx="1524.6" cy="153.0" r="0.5" opacity="0.25"/><circle cx="1567.9" cy="178.5" r="0.9" opacity="0.17"/><circle cx="1230.7" cy="68.2" r="0.5" opacity="0.17"/><circle cx="1202.9" cy="5.0" r="0.8" opacity="0.27"/><circle cx="1315.2" cy="113.3" r="0.6" opacity="0.17"/><circle cx="1206.1" cy="89.4" r="0.5" opacity="0.16"/><circle cx="1309.2" cy="5.9" r="0.9" opacity="0.28"/><circle cx="1479.8" cy="166.9" r="0.7" opacity="0.27"/><circle cx="1460.7" cy="150.9" r="0.9" opacity="0.44"/><circle cx="1540.6" cy="217.8" r="0.8" opacity="0.31"/><circle cx="1338.7" cy="173.7" r="0.7" opacity="0.44"/><circle cx="1520.5" cy="15.6" r="0.9" opacity="0.37"/><circle cx="1475.3" cy="82.5" r="0.5" opacity="0.40"/><circle cx="1449.6" cy="18.2" r="1.0" opacity="0.33"/><circle cx="1229.4" cy="31.3" r="0.9" opacity="0.48"/><circle cx="1566.5" cy="279.4" r="0.9" opacity="0.44"/><circle cx="1167.9" cy="73.3" r="0.7" opacity="0.38"/><circle cx="1379.5" cy="104.9" r="1.0" opacity="0.26"/><circle cx="1510.8" cy="12.5" r="0.6" opacity="0.23"/><circle cx="1187.5" cy="30.7" r="1.0" opacity="0.49"/><circle cx="1441.3" cy="141.8" r="0.9" opacity="0.42"/><circle cx="1325.2" cy="81.4" r="0.7" opacity="0.38"/><circle cx="1158.4" cy="67.9" r="1.0" opacity="0.48"/><circle cx="1558.1" cy="252.3" r="0.9" opacity="0.44"/><circle cx="1357.3" cy="22.3" r="0.9" opacity="0.44"/><circle cx="1509.2" cy="13.1" r="0.5" opacity="0.41"/><circle cx="1594.8" cy="134.1" r="0.8" opacity="0.38"/><circle cx="1428.5" cy="110.3" r="0.8" opacity="0.17"/><circle cx="1544.0" cy="217.1" r="0.9" opacity="0.31"/><circle cx="1421.1" cy="164.5" r="0.5" opacity="0.15"/><circle cx="1262.8" cy="73.5" r="0.6" opacity="0.23"/><circle cx="1551.3" cy="203.0" r="0.5" opacity="0.45"/><circle cx="1383.7" cy="106.3" r="0.6" opacity="0.17"/><circle cx="1411.9" cy="16.2" r="0.8" opacity="0.47"/><circle cx="1414.0" cy="181.9" r="0.9" opacity="0.49"/><circle cx="1297.4" cy="4.4" r="0.8" opacity="0.37"/><circle cx="1523.3" cy="183.6" r="0.6" opacity="0.15"/><circle cx="1505.2" cy="187.4" r="1.0" opacity="0.36"/><circle cx="1517.5" cy="231.7" r="1.0" opacity="0.31"/><circle cx="1542.4" cy="119.0" r="0.5" opacity="0.26"/><circle cx="1261.1" cy="82.4" r="0.8" opacity="0.18"/><circle cx="1166.7" cy="4.3" r="0.6" opacity="0.46"/><circle cx="1333.4" cy="79.8" r="0.7" opacity="0.17"/><circle cx="1235.7" cy="85.4" r="0.9" opacity="0.42"/><circle cx="1432.4" cy="178.5" r="0.9" opacity="0.41"/><circle cx="1594.0" cy="232.6" r="0.5" opacity="0.35"/><circle cx="1389.6" cy="181.4" r="0.5" opacity="0.49"/><circle cx="1325.8" cy="80.6" r="1.0" opacity="0.28"/><circle cx="1185.4" cy="65.4" r="0.6" opacity="0.36"/><circle cx="1537.8" cy="276.4" r="0.6" opacity="0.44"/><circle cx="1082.3" cy="29.7" r="1.0" opacity="0.19"/><circle cx="1441.6" cy="158.1" r="0.5" opacity="0.43"/><circle cx="1498.4" cy="148.9" r="0.7" opacity="0.16"/><circle cx="1432.0" cy="11.7" r="0.7" opacity="0.47"/><circle cx="1419.7" cy="35.0" r="0.8" opacity="0.40"/><circle cx="1364.1" cy="124.1" r="0.7" opacity="0.25"/><circle cx="1245.4" cy="57.1" r="0.5" opacity="0.49"/><circle cx="1369.9" cy="18.7" r="0.5" opacity="0.17"/><circle cx="1382.9" cy="186.6" r="1.0" opacity="0.25"/><circle cx="1170.6" cy="66.4" r="0.5" opacity="0.16"/><circle cx="1316.5" cy="126.0" r="0.7" opacity="0.48"/><circle cx="1338.2" cy="30.8" r="0.5" opacity="0.36"/><circle cx="1529.6" cy="15.1" r="0.8" opacity="0.23"/><circle cx="1447.2" cy="73.4" r="0.5" opacity="0.49"/><circle cx="1552.8" cy="277.0" r="0.7" opacity="0.17"/><circle cx="1238.0" cy="24.7" r="0.6" opacity="0.22"/><circle cx="1408.5" cy="28.9" r="0.7" opacity="0.17"/><circle cx="1483.8" cy="1.1" r="0.8" opacity="0.34"/><circle cx="1428.9" cy="67.1" r="0.6" opacity="0.32"/><circle cx="1273.3" cy="15.0" r="0.5" opacity="0.48"/><circle cx="1515.5" cy="264.3" r="0.7" opacity="0.49"/><circle cx="1567.4" cy="62.6" r="0.5" opacity="0.19"/><circle cx="1379.4" cy="142.9" r="0.5" opacity="0.37"/><circle cx="1116.7" cy="40.1" r="0.8" opacity="0.38"/><circle cx="1488.5" cy="248.0" r="0.5" opacity="0.26"/><circle cx="1507.5" cy="248.7" r="0.9" opacity="0.23"/><circle cx="1233.4" cy="16.9" r="0.9" opacity="0.32"/><circle cx="1592.4" cy="86.9" r="0.7" opacity="0.45"/><circle cx="1582.6" cy="227.1" r="0.9" opacity="0.47"/><circle cx="1573.4" cy="151.7" r="0.5" opacity="0.35"/><circle cx="1498.0" cy="221.8" r="0.9" opacity="0.31"/><circle cx="1287.0" cy="16.5" r="0.9" opacity="0.35"/><circle cx="1268.4" cy="43.6" r="0.7" opacity="0.17"/><circle cx="1107.2" cy="23.8" r="0.7" opacity="0.20"/><circle cx="1503.3" cy="183.0" r="0.9" opacity="0.34"/><circle cx="1510.2" cy="175.5" r="0.8" opacity="0.37"/><circle cx="1568.3" cy="177.3" r="0.6" opacity="0.17"/><circle cx="1352.9" cy="122.7" r="1.0" opacity="0.22"/><circle cx="1154.7" cy="4.8" r="0.5" opacity="0.43"/><circle cx="1527.9" cy="46.1" r="0.5" opacity="0.35"/><circle cx="1550.6" cy="224.1" r="0.6" opacity="0.36"/><circle cx="1366.0" cy="77.2" r="0.8" opacity="0.26"/><circle cx="1103.5" cy="11.9" r="0.8" opacity="0.23"/><circle cx="1562.2" cy="248.6" r="0.9" opacity="0.49"/><circle cx="1388.6" cy="174.6" r="0.6" opacity="0.28"/><circle cx="1359.1" cy="74.1" r="0.8" opacity="0.45"/><circle cx="1443.4" cy="67.5" r="0.5" opacity="0.28"/><circle cx="1346.3" cy="155.4" r="0.8" opacity="0.34"/><circle cx="1419.8" cy="167.3" r="0.8" opacity="0.23"/><circle cx="1330.3" cy="136.2" r="0.5" opacity="0.43"/><circle cx="1196.1" cy="60.9" r="0.6" opacity="0.18"/><circle cx="1333.2" cy="51.6" r="0.8" opacity="0.36"/><circle cx="1389.8" cy="144.1" r="0.8" opacity="0.25"/><circle cx="1385.1" cy="164.7" r="0.9" opacity="0.25"/><circle cx="1451.4" cy="215.8" r="0.6" opacity="0.48"/><circle cx="1590.0" cy="148.6" r="1.0" opacity="0.37"/><circle cx="1255.4" cy="26.1" r="0.5" opacity="0.36"/><circle cx="1442.4" cy="184.7" r="0.9" opacity="0.30"/><circle cx="1455.6" cy="181.2" r="0.8" opacity="0.34"/><circle cx="1413.6" cy="168.0" r="0.5" opacity="0.39"/><circle cx="1434.1" cy="128.4" r="1.0" opacity="0.32"/><circle cx="1240.5" cy="49.6" r="0.9" opacity="0.21"/><circle cx="1438.9" cy="51.0" r="0.7" opacity="0.50"/><circle cx="1548.8" cy="134.5" r="0.8" opacity="0.31"/><circle cx="1483.7" cy="179.8" r="0.6" opacity="0.48"/><circle cx="1375.4" cy="81.4" r="0.8" opacity="0.45"/><circle cx="1313.0" cy="86.4" r="0.5" opacity="0.23"/><circle cx="1285.0" cy="126.6" r="0.8" opacity="0.24"/><circle cx="1387.2" cy="142.0" r="0.9" opacity="0.43"/><circle cx="1346.0" cy="100.5" r="0.6" opacity="0.40"/><circle cx="1285.5" cy="120.3" r="0.8" opacity="0.33"/><circle cx="1346.9" cy="168.2" r="1.0" opacity="0.41"/><circle cx="1048.7" cy="15.8" r="0.9" opacity="0.25"/><circle cx="1047.1" cy="16.1" r="0.6" opacity="0.32"/><circle cx="1582.4" cy="194.4" r="0.9" opacity="0.36"/><circle cx="1549.8" cy="202.0" r="0.6" opacity="0.28"/><circle cx="1308.6" cy="33.0" r="1.0" opacity="0.32"/><circle cx="1490.9" cy="82.0" r="0.8" opacity="0.18"/><circle cx="1175.2" cy="56.2" r="0.7" opacity="0.39"/><circle cx="1597.6" cy="100.0" r="1.0" opacity="0.31"/><circle cx="1325.4" cy="53.3" r="0.5" opacity="0.38"/><circle cx="1097.7" cy="10.4" r="0.5" opacity="0.34"/><circle cx="1469.6" cy="133.9" r="0.5" opacity="0.39"/><circle cx="1597.1" cy="186.6" r="0.7" opacity="0.34"/><circle cx="1480.0" cy="74.5" r="0.9" opacity="0.19"/><circle cx="1569.1" cy="135.8" r="0.9" opacity="0.32"/><circle cx="1263.6" cy="37.3" r="0.8" opacity="0.47"/><circle cx="1425.2" cy="95.1" r="0.7" opacity="0.27"/><circle cx="1326.7" cy="44.1" r="0.9" opacity="0.24"/><circle cx="1265.9" cy="74.3" r="0.8" opacity="0.30"/><circle cx="1422.9" cy="127.5" r="0.9" opacity="0.34"/><circle cx="1181.7" cy="89.4" r="1.0" opacity="0.32"/><circle cx="1453.8" cy="46.8" r="0.8" opacity="0.19"/><circle cx="1164.1" cy="38.2" r="0.5" opacity="0.47"/><circle cx="1580.1" cy="110.4" r="0.5" opacity="0.41"/><circle cx="1411.2" cy="13.6" r="0.9" opacity="0.17"/><circle cx="1469.6" cy="70.2" r="0.7" opacity="0.43"/><circle cx="1378.0" cy="157.6" r="0.6" opacity="0.17"/><circle cx="1373.8" cy="138.1" r="0.8" opacity="0.35"/><circle cx="1401.5" cy="123.3" r="0.9" opacity="0.34"/><circle cx="1503.6" cy="231.6" r="0.8" opacity="0.34"/><circle cx="1178.7" cy="30.7" r="0.8" opacity="0.24"/><circle cx="1382.9" cy="164.8" r="0.8" opacity="0.30"/><circle cx="1218.5" cy="94.1" r="0.7" opacity="0.30"/><circle cx="1469.9" cy="242.7" r="0.8" opacity="0.49"/><circle cx="1291.2" cy="134.0" r="0.8" opacity="0.26"/><circle cx="1504.5" cy="125.4" r="0.8" opacity="0.33"/><circle cx="1243.9" cy="3.2" r="0.6" opacity="0.32"/><circle cx="1572.7" cy="41.1" r="0.9" opacity="0.49"/><circle cx="1483.0" cy="83.8" r="0.5" opacity="0.46"/><circle cx="1565.7" cy="202.1" r="0.9" opacity="0.44"/><circle cx="1444.6" cy="170.5" r="0.9" opacity="0.21"/><circle cx="1420.3" cy="14.0" r="1.0" opacity="0.31"/><circle cx="1348.7" cy="76.7" r="0.7" opacity="0.31"/><circle cx="1106.3" cy="8.1" r="0.7" opacity="0.41"/><circle cx="1422.5" cy="53.5" r="0.9" opacity="0.20"/><circle cx="1255.8" cy="113.6" r="0.6" opacity="0.28"/><circle cx="1532.5" cy="211.7" r="0.9" opacity="0.47"/><circle cx="1561.0" cy="123.9" r="0.8" opacity="0.17"/><circle cx="1244.1" cy="98.4" r="0.8" opacity="0.15"/><circle cx="1462.3" cy="22.3" r="0.7" opacity="0.32"/><circle cx="1511.5" cy="189.7" r="0.5" opacity="0.38"/><circle cx="1291.5" cy="81.5" r="0.6" opacity="0.49"/><circle cx="1235.1" cy="72.8" r="0.7" opacity="0.38"/><circle cx="1566.7" cy="23.9" r="0.6" opacity="0.40"/><circle cx="1417.7" cy="27.7" r="0.5" opacity="0.21"/><circle cx="1210.2" cy="54.7" r="0.6" opacity="0.19"/><circle cx="1464.4" cy="47.8" r="0.5" opacity="0.40"/><circle cx="1084.5" cy="42.0" r="0.7" opacity="0.25"/><circle cx="1479.6" cy="151.9" r="0.7" opacity="0.28"/><circle cx="1342.2" cy="46.4" r="0.5" opacity="0.48"/><circle cx="1376.8" cy="143.3" r="0.5" opacity="0.37"/><circle cx="1308.3" cy="85.9" r="0.9" opacity="0.33"/><circle cx="1041.1" cy="18.1" r="0.5" opacity="0.49"/><circle cx="1531.9" cy="163.3" r="1.0" opacity="0.34"/><circle cx="1421.7" cy="31.4" r="0.7" opacity="0.36"/><circle cx="1440.7" cy="49.8" r="0.7" opacity="0.50"/><circle cx="1257.1" cy="118.7" r="0.9" opacity="0.16"/><circle cx="1302.5" cy="81.4" r="0.8" opacity="0.41"/><circle cx="1522.2" cy="152.1" r="0.8" opacity="0.18"/><circle cx="1384.6" cy="147.1" r="0.7" opacity="0.29"/><circle cx="1140.2" cy="59.2" r="0.9" opacity="0.33"/><circle cx="1505.2" cy="195.3" r="0.5" opacity="0.48"/><circle cx="1297.6" cy="49.7" r="0.6" opacity="0.22"/><circle cx="1133.8" cy="12.3" r="0.8" opacity="0.38"/><circle cx="1277.1" cy="136.9" r="1.0" opacity="0.38"/><circle cx="1454.6" cy="92.5" r="0.5" opacity="0.41"/><circle cx="1458.9" cy="180.1" r="0.5" opacity="0.41"/><circle cx="1388.2" cy="191.0" r="0.5" opacity="0.28"/><circle cx="1450.4" cy="33.4" r="0.5" opacity="0.29"/><circle cx="1517.5" cy="188.9" r="0.6" opacity="0.18"/><circle cx="1508.7" cy="252.8" r="0.8" opacity="0.22"/><circle cx="1460.4" cy="2.9" r="0.5" opacity="0.26"/><circle cx="1575.8" cy="10.7" r="0.5" opacity="0.41"/><circle cx="1466.9" cy="80.4" r="0.5" opacity="0.45"/><circle cx="1583.4" cy="272.6" r="0.8" opacity="0.18"/><circle cx="1454.5" cy="194.8" r="0.9" opacity="0.42"/><circle cx="1298.6" cy="133.8" r="0.8" opacity="0.43"/><circle cx="1531.8" cy="103.9" r="0.5" opacity="0.36"/><circle cx="1465.3" cy="50.6" r="0.8" opacity="0.30"/><circle cx="1161.1" cy="82.4" r="0.6" opacity="0.41"/><circle cx="1349.2" cy="96.2" r="0.5" opacity="0.43"/><circle cx="1480.3" cy="19.0" r="0.6" opacity="0.31"/><circle cx="1154.6" cy="4.4" r="0.7" opacity="0.17"/><circle cx="1378.5" cy="162.7" r="0.5" opacity="0.35"/><circle cx="1332.8" cy="91.3" r="0.6" opacity="0.20"/><circle cx="1310.6" cy="110.1" r="0.8" opacity="0.39"/><circle cx="1592.3" cy="237.7" r="0.6" opacity="0.24"/><circle cx="1390.8" cy="38.5" r="0.5" opacity="0.18"/><circle cx="1404.5" cy="116.2" r="1.0" opacity="0.43"/><circle cx="1337.7" cy="102.2" r="0.6" opacity="0.17"/><circle cx="1206.9" cy="2.5" r="1.0" opacity="0.28"/><circle cx="1473.8" cy="135.9" r="1.0" opacity="0.18"/><circle cx="1084.2" cy="23.5" r="0.5" opacity="0.43"/><circle cx="1567.6" cy="274.8" r="0.7" opacity="0.18"/><circle cx="1475.2" cy="152.1" r="0.9" opacity="0.37"/><circle cx="1357.1" cy="51.3" r="0.5" opacity="0.18"/><circle cx="1282.0" cy="86.7" r="1.0" opacity="0.17"/><circle cx="1465.2" cy="36.0" r="0.5" opacity="0.47"/><circle cx="1367.5" cy="119.8" r="0.6" opacity="0.20"/><circle cx="1429.6" cy="111.6" r="0.8" opacity="0.44"/><circle cx="1387.8" cy="59.1" r="0.7" opacity="0.16"/><circle cx="1327.9" cy="20.9" r="0.5" opacity="0.33"/><circle cx="1341.3" cy="63.9" r="0.8" opacity="0.26"/><circle cx="1433.5" cy="15.7" r="0.9" opacity="0.31"/><circle cx="1391.6" cy="28.5" r="1.0" opacity="0.23"/><circle cx="1269.9" cy="21.8" r="0.7" opacity="0.49"/><circle cx="1144.6" cy="53.5" r="0.8" opacity="0.37"/><circle cx="1378.3" cy="71.8" r="0.5" opacity="0.39"/><circle cx="1526.3" cy="241.9" r="0.9" opacity="0.22"/><circle cx="1384.9" cy="187.8" r="0.8" opacity="0.23"/><circle cx="1173.5" cy="25.4" r="0.5" opacity="0.35"/><circle cx="1577.0" cy="43.9" r="1.0" opacity="0.37"/><circle cx="1242.2" cy="92.7" r="0.5" opacity="0.24"/><circle cx="1309.7" cy="69.5" r="1.0" opacity="0.46"/><circle cx="1475.6" cy="105.6" r="0.9" opacity="0.27"/><circle cx="1492.9" cy="179.5" r="0.9" opacity="0.40"/><circle cx="1348.0" cy="160.2" r="1.0" opacity="0.26"/><circle cx="1396.2" cy="0.6" r="0.6" opacity="0.37"/><circle cx="1302.9" cy="33.4" r="0.8" opacity="0.49"/><circle cx="1383.5" cy="183.8" r="0.7" opacity="0.33"/><circle cx="1594.0" cy="261.6" r="0.7" opacity="0.43"/><circle cx="1598.8" cy="21.4" r="0.6" opacity="0.23"/><circle cx="1538.1" cy="216.7" r="0.8" opacity="0.46"/><circle cx="1557.3" cy="27.3" r="1.0" opacity="0.25"/><circle cx="1204.5" cy="91.9" r="0.9" opacity="0.43"/><circle cx="1586.9" cy="28.1" r="0.8" opacity="0.41"/><circle cx="1575.6" cy="217.7" r="0.6" opacity="0.19"/><circle cx="1359.5" cy="96.8" r="0.5" opacity="0.18"/><circle cx="1588.9" cy="108.3" r="0.7" opacity="0.43"/><circle cx="1473.6" cy="220.9" r="0.6" opacity="0.32"/><circle cx="1566.7" cy="18.4" r="0.5" opacity="0.37"/><circle cx="1573.4" cy="44.7" r="0.6" opacity="0.31"/><circle cx="1481.8" cy="169.2" r="0.8" opacity="0.17"/><circle cx="1445.8" cy="27.4" r="0.5" opacity="0.26"/><circle cx="1272.1" cy="100.0" r="0.5" opacity="0.18"/><circle cx="1375.2" cy="184.2" r="1.0" opacity="0.48"/><circle cx="1239.1" cy="2.3" r="0.9" opacity="0.19"/><circle cx="1441.1" cy="35.2" r="0.8" opacity="0.20"/><circle cx="1337.0" cy="28.0" r="0.6" opacity="0.31"/><circle cx="1559.1" cy="100.6" r="0.6" opacity="0.22"/><circle cx="1453.1" cy="110.2" r="0.6" opacity="0.22"/><circle cx="1445.7" cy="25.3" r="0.7" opacity="0.24"/><circle cx="1202.8" cy="101.4" r="0.6" opacity="0.35"/><circle cx="1187.7" cy="54.3" r="0.9" opacity="0.39"/><circle cx="1537.1" cy="39.9" r="0.6" opacity="0.26"/><circle cx="1285.0" cy="158.6" r="2.6" opacity="0.10"/><circle cx="1238.8" cy="64.0" r="2.6" opacity="0.15"/><circle cx="1272.7" cy="24.3" r="2.9" opacity="0.14"/><circle cx="1271.4" cy="33.2" r="2.8" opacity="0.16"/><circle cx="1221.1" cy="41.9" r="4.2" opacity="0.20"/><circle cx="1240.2" cy="139.9" r="4.2" opacity="0.24"/><circle cx="1227.4" cy="120.8" r="2.7" opacity="0.18"/><circle cx="1278.6" cy="92.4" r="4.2" opacity="0.21"/><circle cx="1284.3" cy="46.0" r="3.6" opacity="0.11"/><circle cx="1281.4" cy="39.5" r="3.9" opacity="0.20"/><circle cx="1210.5" cy="125.8" r="4.1" opacity="0.14"/><circle cx="1256.5" cy="146.6" r="3.4" opacity="0.17"/><circle cx="1284.4" cy="174.5" r="3.2" opacity="0.22"/><circle cx="1229.0" cy="33.3" r="3.1" opacity="0.11"/><circle cx="1203.8" cy="76.2" r="4.1" opacity="0.21"/><circle cx="1210.3" cy="91.1" r="3.0" opacity="0.21"/><circle cx="1209.6" cy="55.8" r="3.3" opacity="0.18"/><circle cx="1230.4" cy="24.0" r="3.5" opacity="0.20"/><circle cx="1288.0" cy="77.4" r="3.0" opacity="0.21"/><circle cx="1275.3" cy="15.1" r="3.5" opacity="0.12"/><circle cx="1286.6" cy="154.8" r="2.8" opacity="0.22"/><circle cx="1244.5" cy="182.2" r="3.9" opacity="0.20"/><circle cx="1239.7" cy="107.7" r="3.1" opacity="0.21"/><circle cx="1291.2" cy="148.7" r="2.7" opacity="0.18"/><circle cx="1227.9" cy="134.1" r="2.6" opacity="0.23"/><circle cx="1271.4" cy="148.4" r="3.1" opacity="0.16"/><circle cx="1219.4" cy="154.4" r="3.8" opacity="0.20"/><circle cx="1285.8" cy="88.0" r="3.6" opacity="0.22"/><circle cx="1234.4" cy="36.9" r="3.1" opacity="0.17"/><circle cx="1294.6" cy="143.3" r="4.1" opacity="0.22"/><circle cx="1276.9" cy="185.4" r="3.8" opacity="0.11"/><circle cx="1245.3" cy="77.4" r="2.8" opacity="0.23"/><circle cx="1223.8" cy="70.8" r="2.7" opacity="0.18"/><circle cx="1283.0" cy="64.0" r="3.6" opacity="0.16"/><circle cx="1203.1" cy="29.9" r="3.7" opacity="0.19"/><circle cx="1248.4" cy="94.0" r="3.3" opacity="0.23"/><circle cx="1216.7" cy="10.5" r="3.9" opacity="0.14"/><circle cx="1239.0" cy="63.0" r="3.1" opacity="0.21"/><circle cx="1245.0" cy="18.2" r="3.7" opacity="0.15"/><circle cx="1240.0" cy="138.6" r="3.6" opacity="0.11"/></g>
<g fill="#3fa6ff"><circle cx="1204.1" cy="173.2" r="0.9" opacity="0.80"/><circle cx="1208.9" cy="174.9" r="1.0" opacity="0.83"/><circle cx="1214.1" cy="176.0" r="1.2" opacity="0.89"/><circle cx="1219.7" cy="176.1" r="1.1" opacity="0.95"/><circle cx="1219.7" cy="176.1" r="2.3" opacity="0.16"/><circle cx="1225.4" cy="174.9" r="1.5" opacity="0.95"/><circle cx="1225.4" cy="174.9" r="3.2" opacity="0.16"/><circle cx="1230.9" cy="172.4" r="1.8" opacity="0.95"/><circle cx="1230.9" cy="172.4" r="3.8" opacity="0.16"/><circle cx="1236.1" cy="168.7" r="1.8" opacity="0.95"/><circle cx="1236.1" cy="168.7" r="3.7" opacity="0.16"/><circle cx="1241.1" cy="164.4" r="1.9" opacity="0.95"/><circle cx="1241.1" cy="164.4" r="4.0" opacity="0.16"/><circle cx="1246.2" cy="160.0" r="2.4" opacity="0.95"/><circle cx="1251.6" cy="155.4" r="2.6" opacity="0.87"/><circle cx="1251.6" cy="155.4" r="5.4" opacity="0.16"/><circle cx="1257.1" cy="150.6" r="2.1" opacity="0.65"/><circle cx="1212.3" cy="187.6" r="0.8" opacity="0.72"/><circle cx="1214.6" cy="189.6" r="0.9" opacity="0.80"/><circle cx="1217.3" cy="191.7" r="0.9" opacity="0.81"/><circle cx="1220.3" cy="193.9" r="1.0" opacity="0.81"/><circle cx="1223.8" cy="195.9" r="1.2" opacity="0.94"/><circle cx="1227.8" cy="197.7" r="1.2" opacity="0.95"/><circle cx="1227.8" cy="197.7" r="2.6" opacity="0.16"/><circle cx="1232.4" cy="198.8" r="1.5" opacity="0.95"/><circle cx="1237.4" cy="199.2" r="1.5" opacity="0.95"/><circle cx="1237.4" cy="199.2" r="3.2" opacity="0.16"/><circle cx="1242.8" cy="198.5" r="2.0" opacity="0.95"/><circle cx="1242.8" cy="198.5" r="4.1" opacity="0.16"/><circle cx="1248.2" cy="196.8" r="1.8" opacity="0.95"/><circle cx="1248.2" cy="196.8" r="3.7" opacity="0.16"/><circle cx="1253.6" cy="193.9" r="2.2" opacity="0.95"/><circle cx="1253.6" cy="193.9" r="4.7" opacity="0.16"/><circle cx="1258.8" cy="190.2" r="2.3" opacity="0.95"/><circle cx="1258.8" cy="190.2" r="4.9" opacity="0.16"/><circle cx="1264.1" cy="186.0" r="2.1" opacity="0.80"/><circle cx="1226.5" cy="201.3" r="0.8" opacity="0.67"/><circle cx="1229.0" cy="202.8" r="0.8" opacity="0.78"/><circle cx="1231.8" cy="204.5" r="1.0" opacity="0.75"/><circle cx="1235.0" cy="206.1" r="1.0" opacity="0.86"/><circle cx="1235.0" cy="206.1" r="2.2" opacity="0.16"/><circle cx="1238.7" cy="207.7" r="1.1" opacity="0.93"/><circle cx="1238.7" cy="207.7" r="2.4" opacity="0.16"/><circle cx="1242.8" cy="209.0" r="1.3" opacity="0.95"/><circle cx="1247.3" cy="209.7" r="1.2" opacity="0.95"/><circle cx="1247.3" cy="209.7" r="2.6" opacity="0.16"/><circle cx="1252.3" cy="209.8" r="1.6" opacity="0.95"/><circle cx="1257.6" cy="209.1" r="1.6" opacity="0.95"/><circle cx="1257.6" cy="209.1" r="3.3" opacity="0.16"/><circle cx="1263.0" cy="207.3" r="2.0" opacity="0.95"/><circle cx="1263.0" cy="207.3" r="4.2" opacity="0.16"/><circle cx="1268.3" cy="204.6" r="1.9" opacity="0.95"/><circle cx="1268.3" cy="204.6" r="4.1" opacity="0.16"/><circle cx="1273.5" cy="201.0" r="2.4" opacity="0.95"/><circle cx="1278.8" cy="196.9" r="2.1" opacity="0.87"/><circle cx="1278.8" cy="196.9" r="4.4" opacity="0.16"/><circle cx="1284.4" cy="192.6" r="2.3" opacity="0.63"/><circle cx="1243.2" cy="212.2" r="0.9" opacity="0.77"/><circle cx="1245.9" cy="213.2" r="0.9" opacity="0.73"/><circle cx="1249.0" cy="214.4" r="0.9" opacity="0.84"/><circle cx="1252.4" cy="215.5" r="0.9" opacity="0.91"/><circle cx="1256.3" cy="216.5" r="1.1" opacity="0.95"/><circle cx="1260.5" cy="217.1" r="1.2" opacity="0.95"/><circle cx="1265.1" cy="217.4" r="1.3" opacity="0.95"/><circle cx="1265.1" cy="217.4" r="2.8" opacity="0.16"/><circle cx="1270.1" cy="217.0" r="1.5" opacity="0.95"/><circle cx="1275.3" cy="215.8" r="1.6" opacity="0.95"/><circle cx="1280.6" cy="213.8" r="1.9" opacity="0.95"/><circle cx="1285.8" cy="210.9" r="2.1" opacity="0.95"/><circle cx="1285.8" cy="210.9" r="4.5" opacity="0.16"/><circle cx="1291.1" cy="207.3" r="2.3" opacity="0.95"/><circle cx="1296.3" cy="203.2" r="2.6" opacity="0.85"/><circle cx="1261.0" cy="221.1" r="0.9" opacity="0.66"/><circle cx="1263.8" cy="222.0" r="0.8" opacity="0.75"/><circle cx="1267.0" cy="222.9" r="0.9" opacity="0.82"/><circle cx="1270.5" cy="223.8" r="1.0" opacity="0.84"/><circle cx="1274.4" cy="224.5" r="1.0" opacity="0.95"/><circle cx="1278.7" cy="224.9" r="1.1" opacity="0.95"/><circle cx="1278.7" cy="224.9" r="2.2" opacity="0.16"/><circle cx="1283.3" cy="224.9" r="1.3" opacity="0.95"/><circle cx="1288.2" cy="224.3" r="1.7" opacity="0.95"/><circle cx="1293.4" cy="223.0" r="2.0" opacity="0.95"/><circle cx="1298.6" cy="220.9" r="2.1" opacity="0.95"/><circle cx="1298.6" cy="220.9" r="4.5" opacity="0.16"/><circle cx="1303.9" cy="217.9" r="2.4" opacity="0.95"/><circle cx="1303.9" cy="217.9" r="5.0" opacity="0.16"/><circle cx="1309.1" cy="214.3" r="2.5" opacity="0.95"/><circle cx="1314.3" cy="210.2" r="2.6" opacity="0.81"/><circle cx="1319.9" cy="205.9" r="2.4" opacity="0.62"/><circle cx="1279.3" cy="229.0" r="0.8" opacity="0.72"/><circle cx="1282.2" cy="229.7" r="0.9" opacity="0.77"/><circle cx="1285.4" cy="230.4" r="0.8" opacity="0.77"/><circle cx="1289.0" cy="231.1" r="1.1" opacity="0.94"/><circle cx="1292.9" cy="231.5" r="1.0" opacity="0.87"/><circle cx="1292.9" cy="231.5" r="2.0" opacity="0.16"/><circle cx="1297.2" cy="231.7" r="1.2" opacity="0.95"/><circle cx="1297.2" cy="231.7" r="2.6" opacity="0.16"/><circle cx="1301.8" cy="231.5" r="1.2" opacity="0.95"/><circle cx="1301.8" cy="231.5" r="2.6" opacity="0.16"/><circle cx="1306.8" cy="230.7" r="1.6" opacity="0.95"/><circle cx="1311.9" cy="229.2" r="1.7" opacity="0.95"/><circle cx="1311.9" cy="229.2" r="3.7" opacity="0.16"/><circle cx="1317.1" cy="227.0" r="2.1" opacity="0.95"/><circle cx="1322.3" cy="224.0" r="1.9" opacity="0.95"/><circle cx="1327.4" cy="220.4" r="2.4" opacity="0.95"/><circle cx="1327.4" cy="220.4" r="5.0" opacity="0.16"/><circle cx="1332.7" cy="216.3" r="2.2" opacity="0.80"/><circle cx="1338.2" cy="211.9" r="2.2" opacity="0.62"/><circle cx="1298.2" cy="235.7" r="0.9" opacity="0.70"/><circle cx="1301.1" cy="236.3" r="0.8" opacity="0.74"/><circle cx="1304.3" cy="236.8" r="0.9" opacity="0.83"/><circle cx="1307.9" cy="237.3" r="1.1" opacity="0.93"/><circle cx="1311.8" cy="237.6" r="1.2" opacity="0.93"/><circle cx="1311.8" cy="237.6" r="2.4" opacity="0.16"/><circle cx="1316.1" cy="237.6" r="1.2" opacity="0.95"/><circle cx="1320.8" cy="237.2" r="1.3" opacity="0.95"/><circle cx="1320.8" cy="237.2" r="2.7" opacity="0.16"/><circle cx="1325.7" cy="236.3" r="1.5" opacity="0.95"/><circle cx="1325.7" cy="236.3" r="3.2" opacity="0.16"/><circle cx="1330.7" cy="234.7" r="1.6" opacity="0.95"/><circle cx="1330.7" cy="234.7" r="3.4" opacity="0.16"/><circle cx="1335.9" cy="232.4" r="2.0" opacity="0.95"/><circle cx="1341.1" cy="229.3" r="2.0" opacity="0.95"/><circle cx="1346.2" cy="225.7" r="2.1" opacity="0.95"/><circle cx="1346.2" cy="225.7" r="4.5" opacity="0.16"/><circle cx="1351.5" cy="221.6" r="2.3" opacity="0.81"/><circle cx="1317.2" cy="241.9" r="0.9" opacity="0.74"/><circle cx="1320.1" cy="242.3" r="0.9" opacity="0.74"/><circle cx="1323.3" cy="242.8" r="1.0" opacity="0.83"/><circle cx="1326.9" cy="243.2" r="1.0" opacity="0.91"/><circle cx="1330.9" cy="243.4" r="1.1" opacity="0.95"/><circle cx="1330.9" cy="243.4" r="2.3" opacity="0.16"/><circle cx="1335.2" cy="243.3" r="1.3" opacity="0.95"/><circle cx="1335.2" cy="243.3" r="2.7" opacity="0.16"/><circle cx="1339.8" cy="242.9" r="1.3" opacity="0.95"/><circle cx="1344.7" cy="241.9" r="1.5" opacity="0.95"/><circle cx="1344.7" cy="241.9" r="3.2" opacity="0.16"/><circle cx="1349.8" cy="240.2" r="1.7" opacity="0.95"/><circle cx="1349.8" cy="240.2" r="3.6" opacity="0.16"/><circle cx="1354.9" cy="237.9" r="1.7" opacity="0.95"/><circle cx="1354.9" cy="237.9" r="3.7" opacity="0.16"/><circle cx="1360.1" cy="234.8" r="2.2" opacity="0.95"/><circle cx="1365.2" cy="231.2" r="2.0" opacity="0.95"/><circle cx="1365.2" cy="231.2" r="4.2" opacity="0.16"/><circle cx="1370.5" cy="227.0" r="2.5" opacity="0.82"/><circle cx="1336.4" cy="247.4" r="0.8" opacity="0.72"/><circle cx="1339.3" cy="247.8" r="0.9" opacity="0.73"/><circle cx="1342.6" cy="248.2" r="0.8" opacity="0.83"/><circle cx="1346.2" cy="248.5" r="1.0" opacity="0.80"/><circle cx="1350.1" cy="248.6" r="1.2" opacity="0.92"/><circle cx="1354.4" cy="248.4" r="1.1" opacity="0.95"/><circle cx="1354.4" cy="248.4" r="2.3" opacity="0.16"/><circle cx="1359.0" cy="247.9" r="1.3" opacity="0.95"/><circle cx="1363.9" cy="246.8" r="1.6" opacity="0.95"/><circle cx="1368.9" cy="245.1" r="1.8" opacity="0.95"/><circle cx="1368.9" cy="245.1" r="3.7" opacity="0.16"/><circle cx="1374.1" cy="242.7" r="1.7" opacity="0.95"/><circle cx="1379.2" cy="239.6" r="2.3" opacity="0.95"/><circle cx="1379.2" cy="239.6" r="4.8" opacity="0.16"/><circle cx="1384.4" cy="235.9" r="2.4" opacity="0.95"/><circle cx="1384.4" cy="235.9" r="5.0" opacity="0.16"/><circle cx="1389.6" cy="231.8" r="2.3" opacity="0.81"/><circle cx="1395.2" cy="227.5" r="2.3" opacity="0.63"/><circle cx="1355.7" cy="252.7" r="0.7" opacity="0.73"/><circle cx="1358.6" cy="253.1" r="0.9" opacity="0.74"/><circle cx="1361.9" cy="253.4" r="0.9" opacity="0.77"/><circle cx="1365.5" cy="253.7" r="0.9" opacity="0.86"/><circle cx="1369.4" cy="253.7" r="1.0" opacity="0.95"/><circle cx="1373.7" cy="253.6" r="1.2" opacity="0.95"/><circle cx="1373.7" cy="253.6" r="2.5" opacity="0.16"/><circle cx="1378.3" cy="253.0" r="1.3" opacity="0.95"/><circle cx="1378.3" cy="253.0" r="2.8" opacity="0.16"/><circle cx="1383.2" cy="251.9" r="1.5" opacity="0.95"/><circle cx="1383.2" cy="251.9" r="3.1" opacity="0.16"/><circle cx="1388.2" cy="250.2" r="1.7" opacity="0.95"/><circle cx="1393.3" cy="247.7" r="2.1" opacity="0.95"/><circle cx="1393.3" cy="247.7" r="4.3" opacity="0.16"/><circle cx="1398.5" cy="244.7" r="1.9" opacity="0.95"/><circle cx="1398.5" cy="244.7" r="4.0" opacity="0.16"/><circle cx="1403.6" cy="241.0" r="2.3" opacity="0.95"/><circle cx="1408.9" cy="236.9" r="2.2" opacity="0.77"/><circle cx="1414.4" cy="232.5" r="2.4" opacity="0.62"/><circle cx="1375.1" cy="258.0" r="0.8" opacity="0.67"/><circle cx="1378.2" cy="258.3" r="0.9" opacity="0.76"/><circle cx="1381.6" cy="258.6" r="0.9" opacity="0.86"/><circle cx="1381.6" cy="258.6" r="2.0" opacity="0.16"/><circle cx="1385.3" cy="258.8" r="1.1" opacity="0.92"/><circle cx="1385.3" cy="258.8" r="2.3" opacity="0.16"/><circle cx="1389.4" cy="258.9" r="1.1" opacity="0.93"/><circle cx="1389.4" cy="258.9" r="2.4" opacity="0.16"/><circle cx="1393.8" cy="258.5" r="1.4" opacity="0.95"/><circle cx="1393.8" cy="258.5" r="3.0" opacity="0.16"/><circle cx="1398.6" cy="257.7" r="1.6" opacity="0.95"/><circle cx="1398.6" cy="257.7" r="3.3" opacity="0.16"/><circle cx="1403.5" cy="256.4" r="1.7" opacity="0.95"/><circle cx="1403.5" cy="256.4" r="3.5" opacity="0.16"/><circle cx="1408.5" cy="254.3" r="1.7" opacity="0.95"/><circle cx="1408.5" cy="254.3" r="3.6" opacity="0.16"/><circle cx="1413.6" cy="251.6" r="1.9" opacity="0.95"/><circle cx="1418.7" cy="248.1" r="2.2" opacity="0.95"/><circle cx="1418.7" cy="248.1" r="4.5" opacity="0.16"/><circle cx="1423.8" cy="244.1" r="2.1" opacity="0.95"/><circle cx="1429.1" cy="239.8" r="2.3" opacity="0.75"/><circle cx="1394.4" cy="262.9" r="0.8" opacity="0.76"/><circle cx="1397.9" cy="263.2" r="0.9" opacity="0.73"/><circle cx="1401.6" cy="263.3" r="1.0" opacity="0.78"/><circle cx="1405.8" cy="263.3" r="1.0" opacity="0.91"/><circle cx="1405.8" cy="263.3" r="2.2" opacity="0.16"/><circle cx="1410.2" cy="262.9" r="1.3" opacity="0.95"/><circle cx="1410.2" cy="262.9" r="2.7" opacity="0.16"/><circle cx="1414.9" cy="262.0" r="1.3" opacity="0.95"/><circle cx="1419.9" cy="260.6" r="1.8" opacity="0.95"/><circle cx="1424.9" cy="258.3" r="1.8" opacity="0.95"/><circle cx="1429.9" cy="255.3" r="2.2" opacity="0.95"/><circle cx="1434.7" cy="251.5" r="2.4" opacity="0.95"/><circle cx="1439.6" cy="247.2" r="2.3" opacity="0.95"/><circle cx="1439.6" cy="247.2" r="4.7" opacity="0.16"/><circle cx="1444.6" cy="242.5" r="2.6" opacity="0.84"/><circle cx="1449.8" cy="237.5" r="2.4" opacity="0.61"/><circle cx="1412.9" cy="267.5" r="1.0" opacity="0.78"/><circle cx="1416.9" cy="267.5" r="1.0" opacity="0.83"/><circle cx="1421.1" cy="267.3" r="1.1" opacity="0.90"/><circle cx="1425.7" cy="266.8" r="1.4" opacity="0.95"/><circle cx="1425.7" cy="266.8" r="3.0" opacity="0.16"/><circle cx="1430.5" cy="265.7" r="1.3" opacity="0.95"/><circle cx="1430.5" cy="265.7" r="2.8" opacity="0.16"/><circle cx="1435.5" cy="263.8" r="1.5" opacity="0.95"/><circle cx="1435.5" cy="263.8" r="3.1" opacity="0.16"/><circle cx="1440.5" cy="261.2" r="1.8" opacity="0.95"/><circle cx="1440.5" cy="261.2" r="3.8" opacity="0.16"/><circle cx="1445.3" cy="257.6" r="2.3" opacity="0.95"/><circle cx="1445.3" cy="257.6" r="4.7" opacity="0.16"/><circle cx="1449.8" cy="253.2" r="2.3" opacity="0.95"/><circle cx="1449.8" cy="253.2" r="4.8" opacity="0.16"/><circle cx="1454.3" cy="248.3" r="2.6" opacity="0.95"/><circle cx="1454.3" cy="248.3" r="5.4" opacity="0.16"/><circle cx="1459.0" cy="243.0" r="2.7" opacity="0.89"/><circle cx="1463.8" cy="237.5" r="2.2" opacity="0.64"/><circle cx="1430.1" cy="271.6" r="0.9" opacity="0.73"/><circle cx="1434.5" cy="271.2" r="1.1" opacity="0.77"/><circle cx="1439.3" cy="270.4" r="1.2" opacity="0.91"/><circle cx="1439.3" cy="270.4" r="2.5" opacity="0.16"/><circle cx="1444.2" cy="269.1" r="1.5" opacity="0.94"/><circle cx="1449.2" cy="266.9" r="1.8" opacity="0.95"/><circle cx="1454.1" cy="263.7" r="1.8" opacity="0.95"/><circle cx="1454.1" cy="263.7" r="3.8" opacity="0.16"/><circle cx="1458.7" cy="259.5" r="2.2" opacity="0.95"/><circle cx="1458.7" cy="259.5" r="4.7" opacity="0.16"/><circle cx="1462.8" cy="254.5" r="2.1" opacity="0.95"/><circle cx="1466.9" cy="249.0" r="2.4" opacity="0.95"/><circle cx="1466.9" cy="249.0" r="5.1" opacity="0.16"/><circle cx="1471.1" cy="243.2" r="2.5" opacity="0.89"/><circle cx="1471.1" cy="243.2" r="5.3" opacity="0.16"/><circle cx="1475.6" cy="237.1" r="2.7" opacity="0.66"/><circle cx="1445.7" cy="275.5" r="1.1" opacity="0.74"/><circle cx="1450.5" cy="274.5" r="1.2" opacity="0.83"/><circle cx="1455.6" cy="272.9" r="1.3" opacity="0.90"/><circle cx="1460.6" cy="270.4" r="1.7" opacity="0.89"/><circle cx="1465.4" cy="266.9" r="2.1" opacity="0.95"/><circle cx="1465.4" cy="266.9" r="4.4" opacity="0.16"/><circle cx="1469.8" cy="262.2" r="2.0" opacity="0.90"/><circle cx="1469.8" cy="262.2" r="4.3" opacity="0.16"/><circle cx="1473.5" cy="256.7" r="2.1" opacity="0.79"/><circle cx="1477.1" cy="250.7" r="2.6" opacity="0.66"/><circle cx="1459.8" cy="279.0" r="1.1" opacity="0.91"/><circle cx="1459.8" cy="279.0" r="2.3" opacity="0.16"/><circle cx="1464.8" cy="277.1" r="1.5" opacity="0.95"/><circle cx="1464.8" cy="277.1" r="3.2" opacity="0.16"/><circle cx="1469.9" cy="274.5" r="1.7" opacity="0.95"/><circle cx="1469.9" cy="274.5" r="3.5" opacity="0.16"/><circle cx="1474.7" cy="270.8" r="2.0" opacity="0.95"/><circle cx="1474.7" cy="270.8" r="4.3" opacity="0.16"/><circle cx="1478.9" cy="265.9" r="2.1" opacity="0.90"/><circle cx="1478.9" cy="265.9" r="4.3" opacity="0.16"/><circle cx="1482.4" cy="260.1" r="2.1" opacity="0.73"/><circle cx="1485.6" cy="253.8" r="2.7" opacity="0.70"/><circle cx="1472.5" cy="282.1" r="1.4" opacity="0.95"/><circle cx="1477.6" cy="279.4" r="1.3" opacity="0.95"/><circle cx="1477.6" cy="279.4" r="2.8" opacity="0.16"/><circle cx="1482.5" cy="275.9" r="1.8" opacity="0.95"/><circle cx="1482.5" cy="275.9" r="3.8" opacity="0.16"/><circle cx="1486.9" cy="271.1" r="1.8" opacity="0.90"/><circle cx="1486.9" cy="271.1" r="3.8" opacity="0.16"/><circle cx="1490.3" cy="265.3" r="2.3" opacity="0.76"/><circle cx="1493.2" cy="258.8" r="2.7" opacity="0.68"/><circle cx="1484.1" cy="285.4" r="1.3" opacity="0.95"/><circle cx="1484.1" cy="285.4" r="2.7" opacity="0.16"/><circle cx="1489.1" cy="282.0" r="1.4" opacity="0.95"/><circle cx="1489.1" cy="282.0" r="3.0" opacity="0.16"/><circle cx="1493.7" cy="277.6" r="1.7" opacity="0.93"/><circle cx="1493.7" cy="277.6" r="3.6" opacity="0.16"/><circle cx="1497.5" cy="272.1" r="2.2" opacity="0.73"/><circle cx="1500.3" cy="265.6" r="2.6" opacity="0.65"/><circle cx="1494.7" cy="289.0" r="1.3" opacity="0.95"/><circle cx="1494.7" cy="289.0" r="2.8" opacity="0.16"/><circle cx="1499.6" cy="285.1" r="1.6" opacity="0.95"/><circle cx="1499.6" cy="285.1" r="3.4" opacity="0.16"/><circle cx="1503.9" cy="280.2" r="1.8" opacity="0.77"/><circle cx="1519.4" cy="236.3" r="2.7" opacity="0.61"/><circle cx="1522.1" cy="227.7" r="2.9" opacity="0.67"/><circle cx="1504.6" cy="293.3" r="1.4" opacity="0.95"/><circle cx="1504.6" cy="293.3" r="3.0" opacity="0.16"/><circle cx="1509.3" cy="289.0" r="1.6" opacity="0.81"/><circle cx="1513.3" cy="283.7" r="2.2" opacity="0.69"/><circle cx="1518.5" cy="270.4" r="2.5" opacity="0.60"/><circle cx="1520.7" cy="263.0" r="2.8" opacity="0.63"/><circle cx="1522.9" cy="255.2" r="3.0" opacity="0.68"/><circle cx="1525.3" cy="247.2" r="2.5" opacity="0.72"/><circle cx="1527.8" cy="238.8" r="2.7" opacity="0.69"/><circle cx="1530.4" cy="230.0" r="2.6" opacity="0.62"/><circle cx="1513.8" cy="298.3" r="1.5" opacity="0.78"/><circle cx="1518.4" cy="294.0" r="1.7" opacity="0.64"/><circle cx="1525.3" cy="282.2" r="2.5" opacity="0.65"/><circle cx="1527.4" cy="275.1" r="2.6" opacity="0.72"/><circle cx="1529.6" cy="267.6" r="2.8" opacity="0.73"/><circle cx="1531.8" cy="259.8" r="2.9" opacity="0.77"/><circle cx="1534.1" cy="251.7" r="2.5" opacity="0.76"/><circle cx="1536.6" cy="243.3" r="2.8" opacity="0.64"/><circle cx="1522.6" cy="304.0" r="1.5" opacity="0.67"/><circle cx="1527.2" cy="299.7" r="1.5" opacity="0.70"/><circle cx="1531.2" cy="294.3" r="2.0" opacity="0.69"/><circle cx="1534.2" cy="287.9" r="2.6" opacity="0.80"/><circle cx="1536.3" cy="280.8" r="2.7" opacity="0.80"/><circle cx="1538.4" cy="273.3" r="2.9" opacity="0.83"/><circle cx="1540.6" cy="265.5" r="2.5" opacity="0.73"/><circle cx="1543.0" cy="257.4" r="3.0" opacity="0.64"/><circle cx="1531.1" cy="310.2" r="1.4" opacity="0.72"/><circle cx="1535.7" cy="305.9" r="1.5" opacity="0.79"/><circle cx="1539.7" cy="300.5" r="2.1" opacity="0.91"/><circle cx="1542.6" cy="294.1" r="2.5" opacity="0.89"/><circle cx="1544.7" cy="287.0" r="2.3" opacity="0.85"/><circle cx="1546.9" cy="279.5" r="2.5" opacity="0.78"/><circle cx="1549.1" cy="271.7" r="2.6" opacity="0.66"/><circle cx="1539.2" cy="316.8" r="1.3" opacity="0.88"/><circle cx="1539.2" cy="316.8" r="2.8" opacity="0.16"/><circle cx="1543.9" cy="312.5" r="1.5" opacity="0.95"/><circle cx="1543.9" cy="312.5" r="3.3" opacity="0.16"/><circle cx="1547.8" cy="307.1" r="2.1" opacity="0.95"/><circle cx="1547.8" cy="307.1" r="4.3" opacity="0.16"/><circle cx="1550.8" cy="300.7" r="2.3" opacity="0.95"/><circle cx="1552.9" cy="293.6" r="2.4" opacity="0.82"/><circle cx="1555.0" cy="286.2" r="2.6" opacity="0.69"/><circle cx="1547.1" cy="323.8" r="1.5" opacity="0.95"/><circle cx="1551.7" cy="319.5" r="1.6" opacity="0.95"/><circle cx="1551.7" cy="319.5" r="3.5" opacity="0.16"/><circle cx="1555.7" cy="314.1" r="2.0" opacity="0.95"/><circle cx="1555.7" cy="314.1" r="4.3" opacity="0.16"/><circle cx="1558.6" cy="307.7" r="2.3" opacity="0.92"/><circle cx="1558.6" cy="307.7" r="4.8" opacity="0.16"/><circle cx="1560.7" cy="300.6" r="2.7" opacity="0.71"/><circle cx="1562.8" cy="293.1" r="2.7" opacity="0.61"/><circle cx="1554.7" cy="331.1" r="1.5" opacity="0.95"/><circle cx="1554.7" cy="331.1" r="3.2" opacity="0.16"/><circle cx="1559.3" cy="326.7" r="1.7" opacity="0.95"/><circle cx="1559.3" cy="326.7" r="3.5" opacity="0.16"/><circle cx="1563.3" cy="321.4" r="2.1" opacity="0.93"/><circle cx="1563.3" cy="321.4" r="4.4" opacity="0.16"/><circle cx="1566.2" cy="314.9" r="2.5" opacity="0.73"/><circle cx="1568.3" cy="307.8" r="2.8" opacity="0.65"/><circle cx="1561.9" cy="338.7" r="1.4" opacity="0.95"/><circle cx="1561.9" cy="338.7" r="3.0" opacity="0.16"/><circle cx="1566.5" cy="334.4" r="1.7" opacity="0.88"/><circle cx="1566.5" cy="334.4" r="3.6" opacity="0.16"/><circle cx="1570.5" cy="329.0" r="1.8" opacity="0.72"/><circle cx="1573.4" cy="322.6" r="2.4" opacity="0.67"/><circle cx="1587.1" cy="274.9" r="2.9" opacity="0.61"/><circle cx="1568.7" cy="346.7" r="1.4" opacity="0.95"/><circle cx="1568.7" cy="346.7" r="3.0" opacity="0.16"/><circle cx="1573.3" cy="342.4" r="1.6" opacity="0.72"/><circle cx="1577.3" cy="337.0" r="1.9" opacity="0.62"/><circle cx="1580.2" cy="330.6" r="2.2" opacity="0.62"/><circle cx="1586.7" cy="308.2" r="3.0" opacity="0.63"/><circle cx="1589.0" cy="300.1" r="2.6" opacity="0.67"/><circle cx="1591.4" cy="291.6" r="2.9" opacity="0.66"/><circle cx="1594.0" cy="282.8" r="2.8" opacity="0.64"/><circle cx="1575.2" cy="354.9" r="1.4" opacity="0.79"/><circle cx="1579.8" cy="350.6" r="1.6" opacity="0.64"/><circle cx="1583.8" cy="345.2" r="2.0" opacity="0.60"/><circle cx="1586.7" cy="338.8" r="2.6" opacity="0.65"/><circle cx="1588.8" cy="331.7" r="2.9" opacity="0.76"/><circle cx="1591.0" cy="324.3" r="2.9" opacity="0.74"/><circle cx="1593.2" cy="316.5" r="2.8" opacity="0.78"/><circle cx="1595.5" cy="308.4" r="2.4" opacity="0.78"/><circle cx="1597.9" cy="299.9" r="2.6" opacity="0.64"/><circle cx="1581.4" cy="363.4" r="1.4" opacity="0.70"/><circle cx="1586.0" cy="359.1" r="1.5" opacity="0.70"/><circle cx="1590.0" cy="353.7" r="2.1" opacity="0.75"/><circle cx="1592.9" cy="347.3" r="2.1" opacity="0.82"/><circle cx="1595.0" cy="340.2" r="2.3" opacity="0.83"/><circle cx="1597.1" cy="332.7" r="3.0" opacity="0.88"/><circle cx="1599.4" cy="325.0" r="2.6" opacity="0.71"/><circle cx="1601.7" cy="316.8" r="2.7" opacity="0.67"/><circle cx="1587.2" cy="372.1" r="1.3" opacity="0.74"/><circle cx="1591.8" cy="367.8" r="1.5" opacity="0.84"/><circle cx="1595.8" cy="362.4" r="1.7" opacity="0.86"/><circle cx="1595.8" cy="362.4" r="3.7" opacity="0.16"/><circle cx="1598.8" cy="356.0" r="2.3" opacity="0.91"/><circle cx="1598.8" cy="356.0" r="4.9" opacity="0.16"/><circle cx="1600.9" cy="348.9" r="2.4" opacity="0.95"/><circle cx="1603.0" cy="341.5" r="3.0" opacity="0.77"/><circle cx="1605.2" cy="333.7" r="2.6" opacity="0.70"/><circle cx="1592.5" cy="381.2" r="1.3" opacity="0.82"/><circle cx="1597.2" cy="376.8" r="1.7" opacity="0.95"/><circle cx="1601.2" cy="371.5" r="2.0" opacity="0.94"/><circle cx="1601.2" cy="371.5" r="4.1" opacity="0.16"/><circle cx="1604.1" cy="365.0" r="2.2" opacity="0.90"/><circle cx="1597.6" cy="390.4" r="1.3" opacity="0.95"/><circle cx="1597.6" cy="390.4" r="2.8" opacity="0.16"/><circle cx="1602.2" cy="386.1" r="1.8" opacity="0.95"/><circle cx="1602.3" cy="399.8" r="1.4" opacity="0.95"/><circle cx="1602.3" cy="399.8" r="2.9" opacity="0.16"/></g>
<g fill="#3b90ff"><circle cx="1154.9" cy="15.0" r="2.1" opacity="0.50"/><circle cx="1161.1" cy="26.4" r="2.0" opacity="0.56"/><circle cx="1168.6" cy="18.4" r="2.2" opacity="0.58"/><circle cx="1176.1" cy="10.3" r="2.5" opacity="0.50"/><circle cx="1183.6" cy="2.3" r="2.3" opacity="0.57"/><circle cx="1160.3" cy="45.2" r="1.5" opacity="0.53"/><circle cx="1167.2" cy="37.9" r="2.0" opacity="0.60"/><circle cx="1174.7" cy="29.8" r="2.4" opacity="0.57"/><circle cx="1182.2" cy="21.8" r="2.5" opacity="0.57"/><circle cx="1189.7" cy="13.8" r="2.4" opacity="0.57"/><circle cx="1197.2" cy="5.7" r="2.3" opacity="0.54"/><circle cx="1204.7" cy="-2.3" r="2.6" opacity="0.51"/><circle cx="1166.4" cy="56.7" r="1.8" opacity="0.52"/><circle cx="1173.2" cy="49.4" r="1.9" opacity="0.62"/><circle cx="1180.7" cy="41.4" r="2.2" opacity="0.70"/><circle cx="1188.2" cy="33.3" r="2.2" opacity="0.65"/><circle cx="1195.7" cy="25.3" r="2.4" opacity="0.63"/><circle cx="1203.2" cy="17.2" r="2.5" opacity="0.60"/><circle cx="1210.7" cy="9.2" r="2.4" opacity="0.51"/><circle cx="1172.4" cy="68.2" r="1.8" opacity="0.64"/><circle cx="1179.2" cy="60.9" r="2.2" opacity="0.69"/><circle cx="1186.7" cy="52.9" r="2.4" opacity="0.78"/><circle cx="1194.2" cy="44.8" r="2.2" opacity="0.73"/><circle cx="1201.8" cy="36.8" r="2.7" opacity="0.68"/><circle cx="1209.3" cy="28.7" r="2.5" opacity="0.66"/><circle cx="1216.8" cy="20.7" r="2.6" opacity="0.55"/><circle cx="1172.5" cy="86.3" r="1.2" opacity="0.55"/><circle cx="1178.6" cy="79.7" r="1.5" opacity="0.62"/><circle cx="1185.4" cy="72.4" r="1.8" opacity="0.78"/><circle cx="1192.9" cy="64.3" r="2.2" opacity="0.76"/><circle cx="1200.4" cy="56.3" r="2.2" opacity="0.81"/><circle cx="1207.9" cy="48.2" r="2.6" opacity="0.79"/><circle cx="1215.4" cy="40.2" r="2.5" opacity="0.81"/><circle cx="1222.9" cy="32.1" r="2.4" opacity="0.65"/><circle cx="1178.8" cy="97.6" r="1.4" opacity="0.54"/><circle cx="1184.9" cy="91.0" r="1.6" opacity="0.67"/><circle cx="1191.7" cy="83.7" r="2.2" opacity="0.88"/><circle cx="1199.2" cy="75.7" r="2.4" opacity="0.90"/><circle cx="1206.7" cy="67.6" r="2.6" opacity="0.91"/><circle cx="1214.2" cy="59.6" r="2.5" opacity="0.85"/><circle cx="1221.7" cy="51.6" r="2.6" opacity="0.87"/><circle cx="1229.2" cy="43.5" r="2.6" opacity="0.67"/><circle cx="1236.7" cy="35.5" r="2.4" opacity="0.60"/><circle cx="1185.1" cy="109.0" r="1.2" opacity="0.62"/><circle cx="1191.2" cy="102.4" r="1.6" opacity="0.80"/><circle cx="1198.0" cy="95.1" r="2.1" opacity="0.90"/><circle cx="1205.5" cy="87.0" r="2.4" opacity="0.86"/><circle cx="1213.0" cy="79.0" r="2.5" opacity="0.86"/><circle cx="1220.5" cy="71.0" r="2.2" opacity="0.92"/><circle cx="1228.0" cy="62.9" r="2.4" opacity="0.90"/><circle cx="1235.5" cy="54.9" r="2.6" opacity="0.74"/><circle cx="1243.0" cy="46.8" r="2.1" opacity="0.58"/><circle cx="1191.5" cy="120.3" r="1.3" opacity="0.61"/><circle cx="1197.6" cy="113.7" r="1.6" opacity="0.77"/><circle cx="1204.4" cy="106.4" r="2.2" opacity="0.95"/><circle cx="1211.9" cy="98.4" r="2.2" opacity="0.95"/><circle cx="1219.4" cy="90.3" r="2.3" opacity="0.95"/><circle cx="1226.9" cy="82.3" r="2.4" opacity="0.92"/><circle cx="1234.4" cy="74.2" r="2.6" opacity="0.95"/><circle cx="1241.9" cy="66.2" r="2.7" opacity="0.79"/><circle cx="1249.4" cy="58.1" r="2.2" opacity="0.61"/><circle cx="1256.9" cy="50.1" r="2.3" opacity="0.52"/><circle cx="1198.9" cy="132.4" r="1.2" opacity="0.71"/><circle cx="1205.1" cy="125.9" r="1.4" opacity="0.79"/><circle cx="1212.1" cy="118.7" r="1.8" opacity="0.95"/><circle cx="1219.7" cy="110.8" r="2.3" opacity="0.95"/><circle cx="1227.3" cy="102.9" r="2.6" opacity="0.95"/><circle cx="1234.9" cy="94.9" r="2.2" opacity="0.94"/><circle cx="1242.5" cy="87.0" r="2.1" opacity="0.95"/><circle cx="1250.2" cy="79.1" r="2.2" opacity="0.84"/><circle cx="1257.8" cy="71.1" r="2.1" opacity="0.62"/><circle cx="1265.4" cy="63.2" r="2.4" opacity="0.56"/><circle cx="1203.5" cy="155.2" r="0.9" opacity="0.50"/><circle cx="1210.2" cy="150.7" r="1.2" opacity="0.62"/><circle cx="1216.6" cy="144.5" r="1.5" opacity="0.90"/><circle cx="1223.9" cy="137.5" r="1.9" opacity="0.95"/><circle cx="1231.8" cy="129.9" r="2.3" opacity="0.95"/><circle cx="1239.7" cy="122.3" r="2.5" opacity="0.95"/><circle cx="1247.7" cy="114.7" r="2.5" opacity="0.95"/><circle cx="1255.6" cy="107.1" r="2.1" opacity="0.95"/><circle cx="1263.6" cy="99.5" r="2.5" opacity="0.87"/><circle cx="1271.5" cy="91.9" r="2.3" opacity="0.64"/><circle cx="1279.5" cy="84.3" r="2.6" opacity="0.58"/><circle cx="1269.7" cy="181.7" r="2.2" opacity="0.56"/><circle cx="1301.9" cy="198.9" r="2.4" opacity="0.54"/><circle cx="1357.0" cy="217.2" r="2.6" opacity="0.60"/><circle cx="1376.0" cy="222.7" r="2.1" opacity="0.55"/><circle cx="1434.6" cy="235.2" r="2.2" opacity="0.55"/><circle cx="1480.9" cy="244.4" r="2.7" opacity="0.53"/><circle cx="1488.9" cy="247.1" r="2.4" opacity="0.54"/><circle cx="1496.0" cy="251.9" r="2.5" opacity="0.50"/><circle cx="1512.3" cy="212.6" r="2.4" opacity="0.52"/><circle cx="1516.0" cy="203.7" r="2.5" opacity="0.55"/><circle cx="1502.8" cy="258.7" r="2.5" opacity="0.57"/><circle cx="1511.0" cy="235.8" r="2.9" opacity="0.54"/><circle cx="1513.9" cy="227.5" r="2.5" opacity="0.59"/><circle cx="1517.0" cy="218.9" r="2.4" opacity="0.58"/><circle cx="1520.2" cy="209.9" r="2.6" opacity="0.54"/><circle cx="1507.2" cy="274.1" r="2.2" opacity="0.59"/><circle cx="1509.6" cy="267.3" r="2.6" opacity="0.58"/><circle cx="1514.3" cy="252.4" r="2.7" opacity="0.51"/><circle cx="1516.8" cy="244.5" r="3.0" opacity="0.60"/><circle cx="1524.9" cy="218.8" r="2.8" opacity="0.59"/><circle cx="1516.3" cy="277.4" r="2.2" opacity="0.56"/><circle cx="1533.0" cy="220.9" r="2.9" opacity="0.50"/><circle cx="1522.4" cy="288.6" r="1.9" opacity="0.60"/><circle cx="1539.1" cy="234.5" r="2.5" opacity="0.52"/><circle cx="1545.4" cy="249.0" r="2.7" opacity="0.54"/><circle cx="1551.4" cy="263.6" r="2.6" opacity="0.60"/><circle cx="1557.2" cy="278.4" r="2.4" opacity="0.58"/><circle cx="1575.0" cy="250.8" r="2.9" opacity="0.53"/><circle cx="1580.5" cy="231.6" r="2.6" opacity="0.52"/><circle cx="1570.4" cy="300.4" r="3.0" opacity="0.52"/><circle cx="1579.9" cy="267.2" r="2.9" opacity="0.59"/><circle cx="1582.6" cy="258.1" r="2.5" opacity="0.53"/><circle cx="1585.3" cy="248.6" r="2.9" opacity="0.52"/><circle cx="1575.5" cy="315.5" r="2.4" opacity="0.53"/><circle cx="1577.6" cy="308.0" r="2.8" opacity="0.56"/><circle cx="1579.9" cy="300.2" r="2.6" opacity="0.57"/><circle cx="1582.2" cy="292.1" r="2.6" opacity="0.58"/><circle cx="1584.6" cy="283.7" r="2.8" opacity="0.59"/><circle cx="1589.8" cy="265.7" r="2.7" opacity="0.56"/><circle cx="1582.3" cy="323.5" r="2.7" opacity="0.60"/><circle cx="1584.5" cy="316.0" r="2.6" opacity="0.60"/><circle cx="1596.6" cy="273.7" r="2.4" opacity="0.51"/><circle cx="1600.5" cy="291.1" r="2.5" opacity="0.54"/><circle cx="1604.1" cy="308.4" r="2.9" opacity="0.51"/></g>
</g>
</defs>

<rect width="1600" height="1200" fill="url(#gBg)"/>


<!-- panels -->
<rect x="80" y="158" width="509" height="961.5" rx="18" fill="#fff" fill-opacity="0.15"/>
<rect x="1011" y="158" width="509" height="961.5" rx="18" fill="#fff" fill-opacity="0.15"/>

<!-- particle waves -->
<use href="#dots"/>
<use href="#dots" transform="rotate(180 800 600)"/>

<!-- logo -->
<g fill="#fff">
<path d="M79.7 62.5H100C110 62.5 114 68 114 75.5C114 82 111 86.5 105.5 88.5L115 107H103.5L95 90H90.5V107H79.7Z M90.5 71V81.5H99C102 81.5 103.5 79 103.5 76.2C103.5 73.5 102 71 99 71Z" fill-rule="evenodd"/>
<circle cx="132.7" cy="75" r="9"/>
<path d="M124 107V86.75A14.5 14.5 0 0 0 141.8 86.75V107Z"/>
<g font-size="54.5" font-weight="bold" stroke="#fff" stroke-width="1"><text transform="translate(151.15 107) scale(0.7520 1)">C</text><text transform="translate(152.15 107) scale(0.7520 1)">C</text><text transform="translate(184.30 107) scale(0.7200 1)">o</text><text transform="translate(185.30 107) scale(0.7200 1)">o</text><text transform="translate(211.55 107) scale(0.7310 1)">n</text><text transform="translate(212.55 107) scale(0.7310 1)">n</text><text transform="translate(239.00 107) scale(0.7530 1)">n</text><text transform="translate(240.00 107) scale(0.7530 1)">n</text><text transform="translate(267.90 107) scale(0.8660 1)">e</text><text transform="translate(268.90 107) scale(0.8660 1)">e</text><text transform="translate(297.30 107) scale(0.7940 1)">c</text><text transform="translate(298.30 107) scale(0.7940 1)">c</text><text transform="translate(324.40 107) scale(0.8250 1)">t</text><text transform="translate(325.40 107) scale(0.8250 1)">t</text></g>
</g>

<!-- Data residency heading -->
<g fill="none" stroke="#fff" stroke-width="4.6" stroke-linejoin="round" stroke-linecap="round">
<path d="M185.4 301.8C184 301.8 183.1 301 182.3 299.6C176.3 288 164 275 164 262.4A21.4 21.4 0 0 1 206.8 262.4C206.8 275 194.5 288 188.5 299.6C187.7 301 186.8 301.8 185.4 301.8Z"/>
<circle cx="185.4" cy="262.2" r="7.3"/>
</g>
<path d="M220.4 223.4C221.6 230.0 225.4 233.8 232.0 235.0C225.4 236.2 221.6 240.0 220.4 246.6C219.2 240.0 215.4 236.2 208.8 235.0C215.4 233.8 219.2 230.0 220.4 223.4Z" fill="#fff" stroke="#fff" stroke-width="1.2" stroke-linejoin="round"/>
<text x="235" y="282.5" font-size="38" font-weight="bold" stroke="#fff" stroke-width="0.4" textLength="85.4" lengthAdjust="spacingAndGlyphs">Data</text>
<text x="332" y="282.5" font-size="38" font-weight="bold" stroke="#fff" stroke-width="0.4" textLength="191" lengthAdjust="spacingAndGlyphs">Residency</text>

<!-- left big DB -->
<g filter="url(#glow)"><use href="#db" transform="translate(334.5 377.5)"/></g>
<!-- right big DB -->
<g filter="url(#glow)"><use href="#db" transform="translate(1266 377.5)"/></g>

<!-- small DBs -->
<g filter="url(#glowS)"><use href="#db" transform="translate(225.600 812.5) scale(0.664)"/></g>
<g filter="url(#glowS)"><use href="#db" transform="translate(442 812.5) scale(0.664)"/></g>
<g filter="url(#glowS)"><use href="#db" transform="translate(1157.100 812.5) scale(0.664)"/></g>
<g filter="url(#glowS)"><use href="#db" transform="translate(1373.5 812.5) scale(0.664)"/></g>

<!-- branch lines -->
<g stroke="#fff" stroke-width="7.6" stroke-linecap="round">
<line x1="300" y1="734.5" x2="228" y2="783.5"/>
<line x1="368" y1="734.5" x2="441" y2="783.5"/>
<line x1="1231.5" y1="734.5" x2="1159.5" y2="783.5"/>
<line x1="1299.5" y1="734.5" x2="1372.5" y2="783.5"/>
</g>

<!-- cloud glow (behind platform) -->
<g filter="url(#blurC)" opacity="0.6" fill="#d6e6ff">
<use href="#cloudShape" transform="translate(11 -8.5)"/>
<use href="#cloudShape"/>
</g>
<!-- platform -->
<path d="M650 494.5L800 532L949.5 494.5V561L800 600.5L650 561Z" fill="#9bb3d4"/>
<path d="M650 495L800 457L949.5 495L800 532.5Z" fill="#deecff"/>
<!-- cloud -->
<g clip-path="url(#cloudClip)"><use href="#cloudShape" transform="translate(11 -8.5)" fill="#0a69b8"/></g>
<use href="#cloudShape" fill="url(#gCloud)"/>

<!-- connectors -->
<g fill="#fff" stroke="#fff">
<line x1="470" y1="507" x2="620" y2="507" stroke-width="8"/>
<path d="M447.3 507L472.8 488V526Z" stroke-width="4" stroke-linejoin="round"/>
<circle cx="619.5" cy="506.5" r="14.2" stroke="none"/>
<line x1="980" y1="507" x2="1146" y2="507" stroke-width="8"/>
<circle cx="980" cy="506.5" r="14.2" stroke="none"/>
<circle cx="1146" cy="506.5" r="14.2" stroke="none"/>
</g>

<!-- labels -->
<text x="334.5" y="697.5" font-size="41" font-weight="bold" stroke="#fff" stroke-width="0.5" text-anchor="middle" textLength="186" lengthAdjust="spacingAndGlyphs">Database</text>
<text x="1266" y="697.5" font-size="41" font-weight="bold" stroke="#fff" stroke-width="0.5" text-anchor="middle" textLength="186" lengthAdjust="spacingAndGlyphs">Database</text>
<text x="800" y="697" font-size="41" font-weight="bold" stroke="#fff" stroke-width="0.5" text-anchor="middle" textLength="245" lengthAdjust="spacingAndGlyphs">Synchronize</text>
<text x="800" y="742" font-size="31.5" text-anchor="middle" textLength="355" lengthAdjust="spacingAndGlyphs">(for compliance purpose)</text>
<text x="334" y="1054" font-size="40" font-weight="bold" stroke="#fff" stroke-width="0.5" text-anchor="middle" textLength="133.6" lengthAdjust="spacingAndGlyphs">Replica</text>
<text x="1265.5" y="1054" font-size="40" font-weight="bold" stroke="#fff" stroke-width="0.5" text-anchor="middle" textLength="133.6" lengthAdjust="spacingAndGlyphs">Replica</text>
</svg>
</body></html>
